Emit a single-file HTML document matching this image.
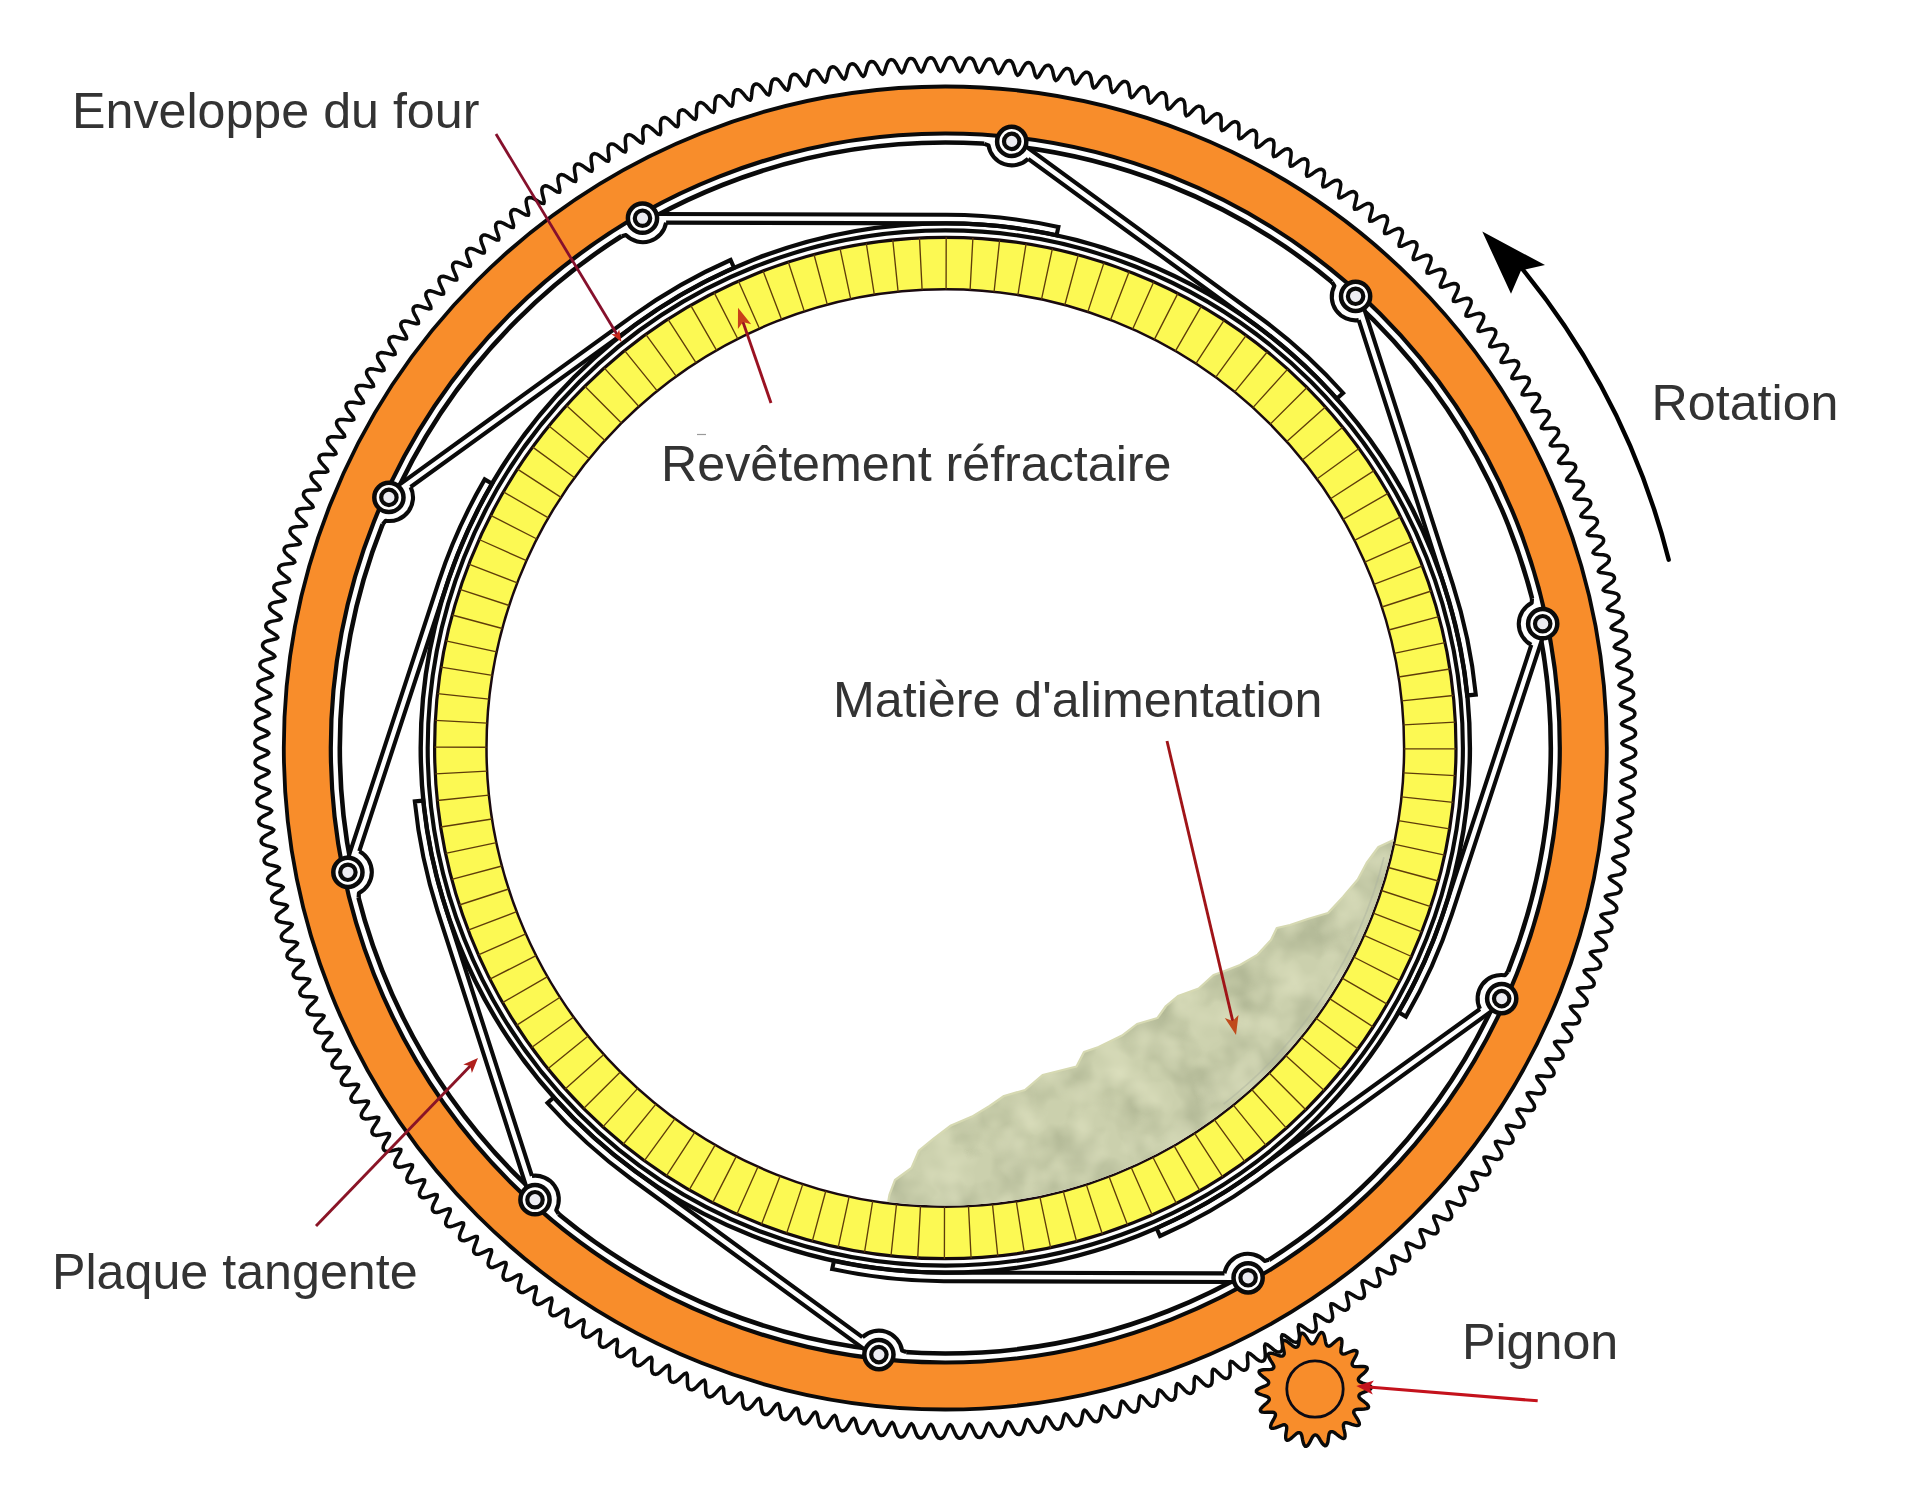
<!DOCTYPE html>
<html lang="fr"><head><meta charset="utf-8"><title>Four rotatif</title>
<style>
html,body{margin:0;padding:0;background:#fff;}
svg{display:block;}
text{font-family:"Liberation Sans",sans-serif;fill:#333;}
</style></head><body>
<svg width="1920" height="1494" viewBox="0 0 1920 1494">
<rect width="1920" height="1494" fill="#fff"/>
<path d="M1631.0,748.0 L1634.0,749.6 L1635.4,751.3 L1635.8,752.9 L1635.4,754.6 L1633.9,756.2 L1631.0,757.8 L1626.9,759.4 L1623.2,760.9 L1621.6,762.5 L1623.1,764.1 L1626.7,765.8 L1630.8,767.6 L1633.7,769.3 L1635.0,771.0 L1635.4,772.6 L1634.9,774.3 L1633.4,775.9 L1630.4,777.4 L1626.3,778.8 L1622.5,780.3 L1621.0,781.8 L1622.4,783.5 L1626.0,785.3 L1629.9,787.1 L1632.8,789.0 L1634.1,790.7 L1634.4,792.3 L1633.9,794.0 L1632.3,795.5 L1629.3,796.9 L1625.1,798.2 L1621.3,799.6 L1619.7,801.1 L1621.1,802.8 L1624.6,804.7 L1628.5,806.7 L1631.3,808.6 L1632.6,810.3 L1632.8,812.0 L1632.3,813.6 L1630.7,815.1 L1627.6,816.4 L1623.4,817.6 L1619.6,818.9 L1617.9,820.3 L1619.2,822.1 L1622.7,824.1 L1626.6,826.2 L1629.3,828.1 L1630.5,829.9 L1630.7,831.6 L1630.1,833.2 L1628.5,834.6 L1625.4,835.9 L1621.1,837.0 L1617.3,838.1 L1615.6,839.5 L1616.8,841.3 L1620.3,843.4 L1624.1,845.6 L1626.7,847.6 L1627.9,849.5 L1628.1,851.1 L1627.4,852.7 L1625.8,854.1 L1622.6,855.3 L1618.3,856.2 L1614.4,857.2 L1612.7,858.6 L1613.9,860.4 L1617.3,862.6 L1621.0,864.9 L1623.6,867.0 L1624.7,868.9 L1624.8,870.6 L1624.2,872.1 L1622.4,873.5 L1619.3,874.6 L1615.0,875.4 L1611.0,876.3 L1609.3,877.6 L1610.4,879.5 L1613.7,881.8 L1617.4,884.2 L1619.9,886.4 L1621.0,888.3 L1621.1,890.0 L1620.3,891.5 L1618.6,892.8 L1615.4,893.8 L1611.1,894.5 L1607.1,895.3 L1605.3,896.5 L1606.4,898.4 L1609.6,900.8 L1613.2,903.3 L1615.7,905.6 L1616.7,907.5 L1616.7,909.2 L1616.0,910.7 L1614.2,912.0 L1610.9,912.8 L1606.6,913.4 L1602.6,914.1 L1600.8,915.3 L1601.8,917.2 L1605.0,919.7 L1608.5,922.3 L1610.9,924.7 L1611.9,926.6 L1611.8,928.3 L1611.0,929.8 L1609.2,931.0 L1606.0,931.8 L1601.6,932.3 L1597.6,932.8 L1595.7,934.0 L1596.7,935.9 L1599.8,938.5 L1603.3,941.2 L1605.6,943.6 L1606.5,945.6 L1606.4,947.3 L1605.6,948.7 L1603.7,949.9 L1600.4,950.6 L1596.1,950.9 L1592.1,951.4 L1590.2,952.5 L1591.1,954.4 L1594.1,957.1 L1597.5,959.9 L1599.8,962.4 L1600.6,964.4 L1600.5,966.1 L1599.6,967.5 L1597.7,968.6 L1594.4,969.2 L1590.0,969.4 L1586.0,969.8 L1584.1,970.8 L1584.9,972.8 L1587.9,975.5 L1591.2,978.4 L1593.4,981.0 L1594.2,983.0 L1594.0,984.7 L1593.1,986.1 L1591.1,987.1 L1587.8,987.6 L1583.4,987.7 L1579.4,988.0 L1577.4,988.9 L1578.3,991.0 L1581.1,993.8 L1584.3,996.8 L1586.5,999.4 L1587.2,1001.4 L1586.9,1003.1 L1586.0,1004.5 L1584.0,1005.5 L1580.7,1005.9 L1576.3,1005.9 L1572.3,1006.0 L1570.3,1006.9 L1571.1,1008.9 L1573.8,1011.9 L1577.0,1014.9 L1579.0,1017.6 L1579.7,1019.7 L1579.4,1021.3 L1578.4,1022.7 L1576.4,1023.6 L1573.1,1023.9 L1568.7,1023.8 L1564.7,1023.8 L1562.7,1024.6 L1563.4,1026.7 L1566.1,1029.7 L1569.1,1032.9 L1571.1,1035.6 L1571.7,1037.7 L1571.3,1039.3 L1570.3,1040.7 L1568.3,1041.5 L1564.9,1041.7 L1560.6,1041.5 L1556.6,1041.3 L1554.5,1042.1 L1555.2,1044.2 L1557.8,1047.3 L1560.7,1050.6 L1562.6,1053.3 L1563.2,1055.4 L1562.8,1057.1 L1561.7,1058.4 L1559.7,1059.2 L1556.3,1059.3 L1551.9,1058.9 L1547.9,1058.7 L1545.9,1059.4 L1546.4,1061.5 L1549.0,1064.7 L1551.8,1068.0 L1553.6,1070.8 L1554.1,1073.0 L1553.7,1074.6 L1552.6,1075.9 L1550.5,1076.6 L1547.2,1076.6 L1542.8,1076.1 L1538.8,1075.8 L1536.7,1076.4 L1537.2,1078.6 L1539.7,1081.8 L1542.4,1085.2 L1544.2,1088.1 L1544.6,1090.2 L1544.1,1091.8 L1543.0,1093.1 L1540.9,1093.8 L1537.5,1093.7 L1533.2,1093.0 L1529.2,1092.6 L1527.1,1093.2 L1527.6,1095.3 L1529.9,1098.6 L1532.5,1102.1 L1534.2,1105.0 L1534.6,1107.2 L1534.0,1108.8 L1532.9,1110.0 L1530.8,1110.6 L1527.4,1110.5 L1523.1,1109.7 L1519.1,1109.1 L1517.0,1109.7 L1517.4,1111.8 L1519.6,1115.2 L1522.2,1118.7 L1523.8,1121.7 L1524.1,1123.9 L1523.5,1125.5 L1522.3,1126.6 L1520.2,1127.2 L1516.8,1126.9 L1512.5,1126.0 L1508.6,1125.3 L1506.4,1125.8 L1506.8,1128.0 L1508.9,1131.4 L1511.4,1135.1 L1512.9,1138.1 L1513.1,1140.2 L1512.5,1141.8 L1511.2,1142.9 L1509.1,1143.5 L1505.8,1143.1 L1501.5,1142.1 L1497.6,1141.3 L1495.4,1141.7 L1495.7,1143.9 L1497.7,1147.4 L1500.1,1151.1 L1501.5,1154.1 L1501.7,1156.3 L1501.0,1157.8 L1499.7,1158.9 L1497.6,1159.4 L1494.3,1158.9 L1490.0,1157.8 L1486.1,1156.9 L1484.0,1157.3 L1484.2,1159.5 L1486.1,1163.0 L1488.3,1166.7 L1489.7,1169.8 L1489.8,1172.0 L1489.1,1173.5 L1487.8,1174.6 L1485.6,1175.0 L1482.3,1174.5 L1478.1,1173.2 L1474.2,1172.2 L1472.1,1172.5 L1472.2,1174.7 L1474.0,1178.3 L1476.2,1182.1 L1477.4,1185.2 L1477.5,1187.4 L1476.7,1188.9 L1475.4,1189.9 L1473.2,1190.3 L1469.9,1189.6 L1465.8,1188.2 L1461.9,1187.1 L1459.7,1187.4 L1459.8,1189.6 L1461.5,1193.2 L1463.5,1197.1 L1464.7,1200.2 L1464.7,1202.4 L1463.9,1203.9 L1462.5,1204.9 L1460.4,1205.2 L1457.1,1204.4 L1453.0,1202.9 L1449.2,1201.7 L1447.0,1201.9 L1447.0,1204.1 L1448.6,1207.7 L1450.5,1211.7 L1451.6,1214.9 L1451.5,1217.1 L1450.7,1218.5 L1449.3,1219.5 L1447.1,1219.7 L1443.8,1218.8 L1439.8,1217.2 L1436.0,1215.9 L1433.8,1216.0 L1433.8,1218.2 L1435.3,1221.9 L1437.1,1225.9 L1438.0,1229.1 L1437.9,1231.3 L1437.0,1232.8 L1435.6,1233.7 L1433.4,1233.8 L1430.2,1232.9 L1426.2,1231.2 L1422.4,1229.7 L1420.2,1229.8 L1420.1,1232.0 L1421.6,1235.7 L1423.2,1239.8 L1424.1,1243.0 L1423.9,1245.2 L1423.0,1246.6 L1421.5,1247.5 L1419.4,1247.6 L1416.1,1246.5 L1412.2,1244.7 L1408.5,1243.1 L1406.3,1243.1 L1406.1,1245.3 L1407.4,1249.1 L1409.0,1253.2 L1409.8,1256.5 L1409.5,1258.7 L1408.6,1260.0 L1407.1,1260.9 L1404.9,1260.9 L1401.7,1259.8 L1397.8,1257.8 L1394.2,1256.1 L1392.0,1256.1 L1391.7,1258.3 L1392.9,1262.1 L1394.4,1266.2 L1395.0,1269.5 L1394.7,1271.7 L1393.7,1273.1 L1392.2,1273.8 L1390.1,1273.8 L1386.9,1272.6 L1383.1,1270.5 L1379.5,1268.8 L1377.3,1268.6 L1377.0,1270.8 L1378.1,1274.7 L1379.4,1278.9 L1380.0,1282.2 L1379.6,1284.3 L1378.6,1285.7 L1377.1,1286.4 L1374.9,1286.3 L1371.8,1285.0 L1368.0,1282.8 L1364.4,1280.9 L1362.2,1280.8 L1361.9,1282.9 L1362.9,1286.8 L1364.0,1291.0 L1364.5,1294.4 L1364.1,1296.5 L1363.0,1297.8 L1361.5,1298.5 L1359.3,1298.3 L1356.2,1297.0 L1352.5,1294.7 L1349.0,1292.7 L1346.8,1292.4 L1346.4,1294.6 L1347.3,1298.5 L1348.4,1302.8 L1348.8,1306.1 L1348.3,1308.2 L1347.2,1309.5 L1345.6,1310.2 L1343.4,1309.9 L1340.4,1308.5 L1336.7,1306.1 L1333.3,1304.0 L1331.1,1303.7 L1330.7,1305.8 L1331.4,1309.8 L1332.4,1314.1 L1332.7,1317.4 L1332.1,1319.5 L1331.0,1320.8 L1329.4,1321.4 L1327.2,1321.1 L1324.2,1319.5 L1320.6,1317.0 L1317.3,1314.9 L1315.1,1314.5 L1314.6,1316.6 L1315.2,1320.6 L1316.0,1324.9 L1316.2,1328.2 L1315.6,1330.3 L1314.5,1331.5 L1312.9,1332.1 L1310.7,1331.7 L1307.8,1330.1 L1304.2,1327.5 L1300.9,1325.2 L1298.8,1324.8 L1298.2,1326.9 L1298.7,1330.9 L1299.4,1335.2 L1299.5,1338.6 L1298.9,1340.7 L1297.6,1341.8 L1296.0,1342.4 L1293.9,1341.9 L1291.0,1340.2 L1287.5,1337.5 L1284.3,1335.2 L1282.2,1334.7 L1281.5,1336.8 L1281.9,1340.8 L1282.5,1345.1 L1282.5,1348.5 L1281.8,1350.5 L1280.5,1351.7 L1278.9,1352.1 L1276.8,1351.7 L1273.9,1349.9 L1270.6,1347.1 L1267.4,1344.6 L1265.3,1344.0 L1264.6,1346.1 L1264.9,1350.1 L1265.3,1354.5 L1265.2,1357.9 L1264.4,1359.9 L1263.2,1361.0 L1261.5,1361.4 L1259.4,1360.9 L1256.6,1359.0 L1253.3,1356.1 L1250.2,1353.6 L1248.1,1352.9 L1247.3,1355.0 L1247.5,1359.0 L1247.9,1363.4 L1247.7,1366.7 L1246.8,1368.8 L1245.5,1369.8 L1243.9,1370.2 L1241.8,1369.6 L1239.0,1367.6 L1235.8,1364.7 L1232.8,1362.0 L1230.7,1361.3 L1229.9,1363.4 L1230.0,1367.4 L1230.2,1371.8 L1229.9,1375.1 L1229.0,1377.1 L1227.7,1378.1 L1226.0,1378.5 L1223.9,1377.8 L1221.2,1375.8 L1218.1,1372.7 L1215.2,1370.0 L1213.1,1369.2 L1212.2,1371.3 L1212.2,1375.3 L1212.2,1379.7 L1211.9,1383.0 L1210.9,1385.0 L1209.5,1385.9 L1207.9,1386.2 L1205.8,1385.5 L1203.2,1383.4 L1200.2,1380.2 L1197.3,1377.4 L1195.2,1376.6 L1194.3,1378.6 L1194.1,1382.6 L1194.1,1387.0 L1193.6,1390.3 L1192.6,1392.3 L1191.2,1393.2 L1189.5,1393.5 L1187.5,1392.7 L1184.9,1390.5 L1182.0,1387.3 L1179.2,1384.4 L1177.2,1383.5 L1176.2,1385.5 L1175.9,1389.5 L1175.7,1393.9 L1175.2,1397.2 L1174.1,1399.1 L1172.7,1400.0 L1171.0,1400.2 L1169.0,1399.3 L1166.5,1397.1 L1163.7,1393.8 L1160.9,1390.8 L1158.9,1389.9 L1157.9,1391.8 L1157.5,1395.8 L1157.2,1400.2 L1156.6,1403.5 L1155.4,1405.4 L1154.0,1406.2 L1152.3,1406.3 L1150.3,1405.5 L1147.9,1403.1 L1145.1,1399.7 L1142.5,1396.7 L1140.5,1395.7 L1139.4,1397.6 L1138.9,1401.6 L1138.5,1406.0 L1137.8,1409.2 L1136.6,1411.1 L1135.1,1411.9 L1133.4,1412.0 L1131.4,1411.0 L1129.1,1408.7 L1126.4,1405.2 L1123.9,1402.1 L1121.9,1401.0 L1120.8,1402.9 L1120.2,1406.9 L1119.6,1411.2 L1118.8,1414.5 L1117.6,1416.3 L1116.1,1417.1 L1114.4,1417.1 L1112.4,1416.1 L1110.1,1413.6 L1107.6,1410.1 L1105.1,1406.9 L1103.2,1405.8 L1102.0,1407.6 L1101.3,1411.6 L1100.6,1415.9 L1099.7,1419.2 L1098.4,1420.9 L1096.9,1421.7 L1095.2,1421.6 L1093.3,1420.6 L1091.1,1418.1 L1088.6,1414.4 L1086.3,1411.2 L1084.4,1410.0 L1083.1,1411.8 L1082.3,1415.8 L1081.5,1420.1 L1080.5,1423.3 L1079.1,1425.0 L1077.6,1425.7 L1075.9,1425.7 L1074.0,1424.5 L1071.9,1422.0 L1069.5,1418.3 L1067.3,1414.9 L1065.4,1413.8 L1064.1,1415.5 L1063.1,1419.4 L1062.2,1423.7 L1061.1,1426.9 L1059.7,1428.6 L1058.2,1429.2 L1056.5,1429.1 L1054.7,1427.9 L1052.6,1425.3 L1050.3,1421.5 L1048.2,1418.1 L1046.4,1416.9 L1045.0,1418.6 L1043.9,1422.5 L1042.9,1426.8 L1041.7,1429.9 L1040.3,1431.6 L1038.7,1432.2 L1037.0,1432.0 L1035.2,1430.8 L1033.2,1428.1 L1031.1,1424.3 L1029.0,1420.8 L1027.2,1419.5 L1025.8,1421.2 L1024.6,1425.0 L1023.5,1429.3 L1022.2,1432.4 L1020.7,1434.0 L1019.1,1434.5 L1017.4,1434.3 L1015.7,1433.1 L1013.7,1430.3 L1011.7,1426.4 L1009.7,1422.9 L1008.0,1421.6 L1006.5,1423.2 L1005.3,1427.0 L1004.0,1431.2 L1002.6,1434.3 L1001.1,1435.9 L999.5,1436.4 L997.8,1436.1 L996.1,1434.8 L994.2,1432.0 L992.3,1428.1 L990.4,1424.5 L988.7,1423.1 L987.2,1424.7 L985.8,1428.5 L984.4,1432.6 L983.0,1435.6 L981.4,1437.2 L979.8,1437.6 L978.1,1437.3 L976.4,1436.0 L974.7,1433.1 L972.9,1429.1 L971.1,1425.5 L969.4,1424.1 L967.9,1425.6 L966.4,1429.4 L964.9,1433.5 L963.3,1436.4 L961.7,1437.9 L960.1,1438.3 L958.4,1438.0 L956.8,1436.6 L955.1,1433.7 L953.4,1429.6 L951.8,1426.0 L950.1,1424.5 L948.5,1426.0 L946.9,1429.7 L945.3,1433.7 L943.7,1436.7 L942.0,1438.1 L940.4,1438.5 L938.7,1438.1 L937.1,1436.6 L935.5,1433.7 L933.9,1429.6 L932.4,1425.9 L930.8,1424.3 L929.2,1425.8 L927.5,1429.4 L925.7,1433.5 L924.0,1436.4 L922.3,1437.7 L920.7,1438.1 L919.0,1437.6 L917.4,1436.1 L915.9,1433.1 L914.5,1429.0 L913.0,1425.2 L911.5,1423.7 L909.8,1425.1 L908.0,1428.7 L906.2,1432.6 L904.3,1435.5 L902.6,1436.8 L901.0,1437.1 L899.3,1436.6 L897.8,1435.0 L896.4,1432.0 L895.1,1427.8 L893.7,1424.0 L892.2,1422.4 L890.5,1423.8 L888.6,1427.3 L886.6,1431.2 L884.7,1434.0 L883.0,1435.3 L881.3,1435.5 L879.7,1435.0 L878.2,1433.4 L876.9,1430.3 L875.7,1426.1 L874.4,1422.3 L873.0,1420.6 L871.2,1421.9 L869.2,1425.4 L867.1,1429.3 L865.2,1432.0 L863.4,1433.2 L861.7,1433.4 L860.1,1432.8 L858.7,1431.2 L857.4,1428.1 L856.3,1423.8 L855.2,1420.0 L853.8,1418.3 L852.0,1419.5 L849.9,1423.0 L847.7,1426.8 L845.7,1429.4 L843.8,1430.6 L842.2,1430.8 L840.6,1430.1 L839.2,1428.5 L838.0,1425.3 L837.1,1421.0 L836.1,1417.1 L834.7,1415.4 L832.9,1416.6 L830.7,1420.0 L828.4,1423.7 L826.3,1426.3 L824.4,1427.4 L822.7,1427.5 L821.2,1426.9 L819.8,1425.1 L818.7,1422.0 L817.9,1417.7 L817.0,1413.7 L815.7,1412.0 L813.8,1413.1 L811.5,1416.4 L809.1,1420.1 L806.9,1422.6 L805.0,1423.7 L803.3,1423.8 L801.8,1423.0 L800.5,1421.3 L799.5,1418.1 L798.8,1413.8 L798.0,1409.8 L796.8,1408.0 L794.9,1409.1 L792.5,1412.3 L790.0,1415.9 L787.7,1418.4 L785.8,1419.4 L784.1,1419.4 L782.6,1418.7 L781.3,1416.9 L780.5,1413.6 L779.9,1409.3 L779.2,1405.3 L778.0,1403.5 L776.1,1404.5 L773.6,1407.7 L771.0,1411.2 L768.6,1413.6 L766.7,1414.6 L765.0,1414.5 L763.5,1413.7 L762.3,1411.9 L761.5,1408.7 L761.0,1404.3 L760.5,1400.3 L759.3,1398.4 L757.4,1399.4 L754.8,1402.5 L752.1,1406.0 L749.7,1408.3 L747.7,1409.2 L746.0,1409.1 L744.6,1408.3 L743.4,1406.4 L742.7,1403.1 L742.4,1398.8 L741.9,1394.8 L740.8,1392.9 L738.9,1393.8 L736.2,1396.8 L733.4,1400.2 L730.9,1402.5 L728.9,1403.3 L727.2,1403.2 L725.8,1402.3 L724.7,1400.4 L724.1,1397.1 L723.9,1392.7 L723.5,1388.7 L722.5,1386.8 L720.5,1387.6 L717.8,1390.6 L714.9,1393.9 L712.3,1396.1 L710.3,1396.9 L708.6,1396.7 L707.2,1395.8 L706.2,1393.8 L705.7,1390.5 L705.6,1386.1 L705.3,1382.1 L704.4,1380.1 L702.3,1381.0 L699.5,1383.8 L696.5,1387.0 L693.9,1389.2 L691.9,1389.9 L690.2,1389.6 L688.8,1388.7 L687.8,1386.7 L687.4,1383.4 L687.4,1379.0 L687.3,1375.0 L686.4,1373.0 L684.4,1373.8 L681.4,1376.5 L678.4,1379.7 L675.7,1381.7 L673.6,1382.4 L672.0,1382.1 L670.6,1381.1 L669.7,1379.1 L669.4,1375.8 L669.5,1371.4 L669.5,1367.4 L668.7,1365.4 L666.6,1366.1 L663.6,1368.8 L660.4,1371.8 L657.7,1373.8 L655.6,1374.4 L654.0,1374.0 L652.6,1373.0 L651.8,1371.0 L651.6,1367.6 L651.8,1363.3 L652.0,1359.3 L651.2,1357.2 L649.1,1357.9 L646.0,1360.5 L642.7,1363.4 L640.0,1365.3 L637.9,1365.9 L636.2,1365.5 L634.9,1364.4 L634.1,1362.4 L634.0,1359.0 L634.4,1354.6 L634.6,1350.6 L633.9,1348.6 L631.8,1349.1 L628.6,1351.7 L625.3,1354.5 L622.5,1356.3 L620.3,1356.8 L618.7,1356.4 L617.4,1355.3 L616.7,1353.2 L616.7,1349.9 L617.2,1345.5 L617.5,1341.5 L616.9,1339.4 L614.7,1339.9 L611.5,1342.4 L608.1,1345.1 L605.2,1346.9 L603.1,1347.3 L601.5,1346.8 L600.2,1345.7 L599.5,1343.6 L599.6,1340.2 L600.3,1335.9 L600.7,1331.9 L600.1,1329.8 L598.0,1330.3 L594.7,1332.6 L591.2,1335.2 L588.3,1336.9 L586.1,1337.3 L584.5,1336.7 L583.3,1335.6 L582.7,1333.5 L582.8,1330.1 L583.6,1325.8 L584.2,1321.8 L583.6,1319.7 L581.5,1320.1 L578.1,1322.3 L574.6,1324.9 L571.6,1326.5 L569.4,1326.8 L567.8,1326.2 L566.7,1325.0 L566.1,1322.9 L566.4,1319.5 L567.3,1315.2 L568.0,1311.3 L567.5,1309.1 L565.3,1309.5 L561.9,1311.6 L558.2,1314.1 L555.2,1315.6 L553.1,1315.8 L551.5,1315.2 L550.4,1313.9 L549.8,1311.8 L550.2,1308.5 L551.2,1304.2 L552.0,1300.3 L551.6,1298.1 L549.4,1298.4 L545.9,1300.4 L542.2,1302.8 L539.2,1304.2 L537.0,1304.4 L535.5,1303.7 L534.4,1302.4 L533.9,1300.3 L534.4,1297.0 L535.5,1292.7 L536.4,1288.8 L536.0,1286.7 L533.8,1286.9 L530.3,1288.8 L526.6,1291.0 L523.5,1292.4 L521.3,1292.5 L519.8,1291.8 L518.7,1290.5 L518.3,1288.3 L518.8,1285.0 L520.1,1280.8 L521.1,1276.9 L520.8,1274.8 L518.6,1274.9 L515.0,1276.7 L511.2,1278.9 L508.1,1280.1 L505.9,1280.2 L504.4,1279.4 L503.4,1278.1 L503.0,1275.9 L503.7,1272.6 L505.1,1268.5 L506.2,1264.6 L505.9,1262.4 L503.7,1262.5 L500.1,1264.2 L496.2,1266.2 L493.1,1267.4 L490.9,1267.4 L489.4,1266.6 L488.4,1265.2 L488.1,1263.1 L488.9,1259.8 L490.4,1255.7 L491.6,1251.9 L491.4,1249.7 L489.2,1249.7 L485.6,1251.3 L481.6,1253.2 L478.4,1254.3 L476.2,1254.2 L474.8,1253.4 L473.8,1252.0 L473.6,1249.8 L474.5,1246.5 L476.1,1242.5 L477.4,1238.7 L477.3,1236.5 L475.1,1236.5 L471.4,1238.0 L467.4,1239.8 L464.2,1240.7 L462.0,1240.6 L460.5,1239.7 L459.6,1238.3 L459.5,1236.1 L460.4,1232.9 L462.1,1228.9 L463.6,1225.1 L463.5,1222.9 L461.3,1222.8 L457.6,1224.3 L453.5,1225.9 L450.3,1226.8 L448.1,1226.6 L446.7,1225.7 L445.8,1224.2 L445.7,1222.1 L446.8,1218.8 L448.6,1214.9 L450.2,1211.2 L450.2,1209.0 L448.0,1208.8 L444.2,1210.1 L440.1,1211.7 L436.8,1212.5 L434.6,1212.2 L433.3,1211.3 L432.4,1209.8 L432.4,1207.6 L433.5,1204.4 L435.5,1200.5 L437.2,1196.9 L437.2,1194.7 L435.0,1194.4 L431.2,1195.6 L427.1,1197.1 L423.8,1197.7 L421.6,1197.4 L420.2,1196.4 L419.5,1194.9 L419.5,1192.8 L420.7,1189.6 L422.8,1185.8 L424.5,1182.2 L424.7,1180.0 L422.5,1179.7 L418.6,1180.8 L414.4,1182.1 L411.1,1182.7 L409.0,1182.3 L407.6,1181.3 L406.9,1179.8 L407.0,1177.6 L408.3,1174.5 L410.5,1170.7 L412.4,1167.1 L412.5,1164.9 L410.4,1164.6 L406.5,1165.6 L402.3,1166.7 L398.9,1167.2 L396.8,1166.8 L395.5,1165.7 L394.8,1164.2 L395.0,1162.0 L396.3,1158.9 L398.6,1155.2 L400.6,1151.7 L400.9,1149.5 L398.7,1149.1 L394.8,1150.0 L390.5,1151.1 L387.2,1151.5 L385.1,1151.0 L383.8,1149.9 L383.1,1148.3 L383.4,1146.1 L384.8,1143.1 L387.2,1139.4 L389.3,1136.0 L389.6,1133.8 L387.5,1133.4 L383.5,1134.1 L379.2,1135.1 L375.9,1135.4 L373.8,1134.8 L372.5,1133.7 L371.9,1132.1 L372.2,1129.9 L373.8,1126.9 L376.3,1123.3 L378.4,1120.0 L378.8,1117.8 L376.7,1117.3 L372.7,1117.9 L368.4,1118.7 L365.1,1118.9 L363.0,1118.3 L361.8,1117.2 L361.2,1115.6 L361.6,1113.4 L363.2,1110.5 L365.8,1106.9 L368.1,1103.6 L368.5,1101.5 L366.4,1100.9 L362.4,1101.4 L358.1,1102.1 L354.7,1102.2 L352.6,1101.6 L351.5,1100.3 L350.9,1098.7 L351.4,1096.6 L353.1,1093.7 L355.8,1090.2 L358.1,1087.0 L358.6,1084.9 L356.5,1084.2 L352.5,1084.6 L348.2,1085.2 L344.8,1085.2 L342.8,1084.5 L341.6,1083.2 L341.2,1081.6 L341.6,1079.5 L343.4,1076.6 L346.2,1073.3 L348.7,1070.1 L349.3,1068.0 L347.2,1067.3 L343.2,1067.6 L338.8,1068.0 L335.4,1067.9 L333.4,1067.1 L332.3,1065.9 L331.9,1064.2 L332.4,1062.1 L334.3,1059.3 L337.2,1056.0 L339.7,1052.9 L340.4,1050.8 L338.3,1050.0 L334.3,1050.2 L329.9,1050.6 L326.6,1050.4 L324.5,1049.5 L323.5,1048.2 L323.1,1046.6 L323.7,1044.5 L325.7,1041.7 L328.6,1038.5 L331.3,1035.5 L332.0,1033.4 L329.9,1032.6 L325.9,1032.7 L321.5,1032.9 L318.2,1032.6 L316.2,1031.7 L315.2,1030.4 L314.8,1028.7 L315.5,1026.6 L317.5,1023.9 L320.6,1020.8 L323.3,1017.9 L324.1,1015.8 L322.0,1014.9 L318.0,1014.9 L313.6,1014.9 L310.3,1014.6 L308.3,1013.6 L307.4,1012.2 L307.1,1010.6 L307.8,1008.5 L309.9,1005.9 L313.1,1002.9 L315.9,1000.0 L316.7,997.9 L314.7,997.0 L310.7,996.8 L306.3,996.8 L303.0,996.3 L301.0,995.3 L300.1,993.9 L299.8,992.2 L300.6,990.2 L302.8,987.6 L306.0,984.7 L308.9,981.9 L309.8,979.9 L307.8,978.9 L303.8,978.6 L299.4,978.4 L296.1,977.9 L294.2,976.8 L293.3,975.4 L293.1,973.7 L294.0,971.7 L296.2,969.2 L299.5,966.4 L302.5,963.6 L303.4,961.6 L301.5,960.6 L297.5,960.2 L293.1,959.9 L289.8,959.3 L287.9,958.1 L287.1,956.7 L287.0,955.0 L287.8,953.0 L290.2,950.6 L293.6,947.8 L296.6,945.2 L297.6,943.2 L295.7,942.1 L291.7,941.6 L287.3,941.2 L284.1,940.5 L282.2,939.3 L281.4,937.8 L281.3,936.1 L282.3,934.1 L284.6,931.8 L288.1,929.1 L291.2,926.6 L292.3,924.6 L290.4,923.5 L286.4,922.9 L282.1,922.3 L278.8,921.5 L277.0,920.3 L276.2,918.8 L276.2,917.1 L277.2,915.1 L279.7,912.8 L283.2,910.3 L286.4,907.8 L287.5,905.9 L285.7,904.7 L281.7,904.0 L277.4,903.3 L274.1,902.4 L272.4,901.1 L271.6,899.6 L271.7,897.9 L272.7,896.0 L275.2,893.8 L278.9,891.3 L282.1,889.0 L283.3,887.1 L281.5,885.8 L277.5,885.0 L273.2,884.2 L270.0,883.2 L268.3,881.8 L267.6,880.3 L267.6,878.6 L268.8,876.7 L271.3,874.6 L275.0,872.2 L278.4,870.0 L279.5,868.1 L277.8,866.8 L273.9,865.8 L269.6,864.9 L266.4,863.8 L264.7,862.4 L264.1,860.9 L264.2,859.2 L265.4,857.4 L268.0,855.3 L271.8,853.0 L275.2,850.9 L276.4,849.1 L274.7,847.7 L270.8,846.6 L266.5,845.6 L263.4,844.4 L261.7,843.0 L261.1,841.4 L261.3,839.7 L262.5,837.9 L265.2,835.9 L269.0,833.8 L272.5,831.7 L273.8,829.9 L272.1,828.5 L268.3,827.3 L264.0,826.2 L260.9,824.9 L259.3,823.4 L258.8,821.8 L259.0,820.1 L260.2,818.4 L263.0,816.4 L266.9,814.4 L270.4,812.4 L271.7,810.7 L270.1,809.2 L266.3,808.0 L262.1,806.7 L259.0,805.3 L257.4,803.8 L256.9,802.2 L257.2,800.5 L258.5,798.8 L261.3,796.9 L265.2,795.0 L268.8,793.1 L270.2,791.4 L268.6,789.9 L264.8,788.5 L260.7,787.1 L257.7,785.7 L256.1,784.1 L255.7,782.5 L256.0,780.8 L257.3,779.1 L260.2,777.4 L264.2,775.6 L267.8,773.8 L269.2,772.1 L267.7,770.6 L263.9,769.1 L259.8,767.6 L256.9,766.0 L255.4,764.4 L255.0,762.8 L255.3,761.1 L256.7,759.5 L259.6,757.8 L263.7,756.1 L267.3,754.5 L268.8,752.8 L267.3,751.2 L263.6,749.6 L259.6,748.0 L256.6,746.4 L255.2,744.7 L254.8,743.1 L255.2,741.4 L256.7,739.8 L259.6,738.2 L263.7,736.6 L267.4,735.1 L269.0,733.5 L267.5,731.9 L263.9,730.2 L259.8,728.4 L256.9,726.7 L255.6,725.0 L255.2,723.4 L255.7,721.7 L257.2,720.1 L260.2,718.6 L264.3,717.2 L268.1,715.7 L269.6,714.2 L268.2,712.5 L264.6,710.7 L260.7,708.9 L257.8,707.0 L256.5,705.3 L256.2,703.7 L256.7,702.0 L258.3,700.5 L261.3,699.1 L265.5,697.8 L269.3,696.4 L270.9,694.9 L269.5,693.2 L266.0,691.3 L262.1,689.3 L259.3,687.4 L258.0,685.7 L257.8,684.0 L258.3,682.4 L259.9,680.9 L263.0,679.6 L267.2,678.4 L271.0,677.1 L272.7,675.7 L271.4,673.9 L267.9,671.9 L264.0,669.8 L261.3,667.9 L260.1,666.1 L259.9,664.4 L260.5,662.8 L262.1,661.4 L265.2,660.1 L269.5,659.0 L273.3,657.9 L275.0,656.5 L273.8,654.7 L270.3,652.6 L266.5,650.4 L263.9,648.4 L262.7,646.5 L262.5,644.9 L263.2,643.3 L264.8,641.9 L268.0,640.7 L272.3,639.8 L276.2,638.8 L277.9,637.4 L276.7,635.6 L273.3,633.4 L269.6,631.1 L267.0,629.0 L265.9,627.1 L265.8,625.4 L266.4,623.9 L268.2,622.5 L271.3,621.4 L275.6,620.6 L279.6,619.7 L281.3,618.4 L280.2,616.5 L276.9,614.2 L273.2,611.8 L270.7,609.6 L269.6,607.7 L269.5,606.0 L270.3,604.5 L272.0,603.2 L275.2,602.2 L279.5,601.5 L283.5,600.7 L285.3,599.5 L284.2,597.6 L281.0,595.2 L277.4,592.7 L274.9,590.4 L273.9,588.5 L273.9,586.8 L274.6,585.3 L276.4,584.0 L279.7,583.2 L284.0,582.6 L288.0,581.9 L289.8,580.7 L288.8,578.8 L285.6,576.3 L282.1,573.7 L279.7,571.3 L278.7,569.4 L278.8,567.7 L279.6,566.2 L281.4,565.0 L284.6,564.2 L289.0,563.7 L293.0,563.2 L294.9,562.0 L293.9,560.1 L290.8,557.5 L287.3,554.8 L285.0,552.4 L284.1,550.4 L284.2,548.7 L285.0,547.3 L286.9,546.1 L290.2,545.4 L294.5,545.1 L298.5,544.6 L300.4,543.5 L299.5,541.6 L296.5,538.9 L293.1,536.1 L290.8,533.6 L290.0,531.6 L290.1,529.9 L291.0,528.5 L292.9,527.4 L296.2,526.8 L300.6,526.6 L304.6,526.2 L306.5,525.2 L305.7,523.2 L302.7,520.5 L299.4,517.6 L297.2,515.0 L296.4,513.0 L296.6,511.3 L297.5,509.9 L299.5,508.9 L302.8,508.4 L307.2,508.3 L311.2,508.0 L313.2,507.1 L312.3,505.0 L309.5,502.2 L306.3,499.2 L304.1,496.6 L303.4,494.6 L303.7,492.9 L304.6,491.5 L306.6,490.5 L309.9,490.1 L314.3,490.1 L318.3,490.0 L320.3,489.1 L319.5,487.1 L316.8,484.1 L313.6,481.1 L311.6,478.4 L310.9,476.3 L311.2,474.7 L312.2,473.3 L314.2,472.4 L317.5,472.1 L321.9,472.2 L325.9,472.2 L327.9,471.4 L327.2,469.3 L324.5,466.3 L321.5,463.1 L319.5,460.4 L318.9,458.3 L319.3,456.7 L320.3,455.3 L322.3,454.5 L325.7,454.3 L330.0,454.5 L334.0,454.7 L336.1,453.9 L335.4,451.8 L332.8,448.7 L329.9,445.4 L328.0,442.7 L327.4,440.6 L327.8,438.9 L328.9,437.6 L330.9,436.8 L334.3,436.7 L338.7,437.1 L342.7,437.3 L344.7,436.6 L344.2,434.5 L341.6,431.3 L338.8,428.0 L337.0,425.2 L336.5,423.0 L336.9,421.4 L338.0,420.1 L340.1,419.4 L343.4,419.4 L347.8,419.9 L351.8,420.2 L353.9,419.6 L353.4,417.4 L350.9,414.2 L348.2,410.8 L346.4,407.9 L346.0,405.8 L346.5,404.2 L347.6,402.9 L349.7,402.2 L353.1,402.3 L357.4,403.0 L361.4,403.4 L363.5,402.8 L363.0,400.7 L360.7,397.4 L358.1,393.9 L356.4,391.0 L356.0,388.8 L356.6,387.2 L357.7,386.0 L359.8,385.4 L363.2,385.5 L367.5,386.3 L371.5,386.9 L373.6,386.3 L373.2,384.2 L371.0,380.8 L368.4,377.3 L366.8,374.3 L366.5,372.1 L367.1,370.5 L368.3,369.4 L370.4,368.8 L373.8,369.1 L378.1,370.0 L382.0,370.7 L384.2,370.2 L383.8,368.0 L381.7,364.6 L379.2,360.9 L377.7,357.9 L377.5,355.8 L378.1,354.2 L379.4,353.1 L381.5,352.5 L384.8,352.9 L389.1,353.9 L393.0,354.7 L395.2,354.3 L394.9,352.1 L392.9,348.6 L390.5,344.9 L389.1,341.9 L388.9,339.7 L389.6,338.2 L390.9,337.1 L393.0,336.6 L396.3,337.1 L400.6,338.2 L404.5,339.1 L406.6,338.7 L406.4,336.5 L404.5,333.0 L402.3,329.3 L400.9,326.2 L400.8,324.0 L401.5,322.5 L402.8,321.4 L405.0,321.0 L408.3,321.5 L412.5,322.8 L416.4,323.8 L418.5,323.5 L418.4,321.3 L416.6,317.7 L414.4,313.9 L413.2,310.8 L413.1,308.6 L413.9,307.1 L415.2,306.1 L417.4,305.7 L420.7,306.4 L424.8,307.8 L428.7,308.9 L430.9,308.6 L430.8,306.4 L429.1,302.8 L427.1,298.9 L425.9,295.8 L425.9,293.6 L426.7,292.1 L428.1,291.1 L430.2,290.8 L433.5,291.6 L437.6,293.1 L441.4,294.3 L443.6,294.1 L443.6,291.9 L442.0,288.3 L440.1,284.3 L439.0,281.1 L439.1,278.9 L439.9,277.5 L441.3,276.5 L443.5,276.3 L446.8,277.2 L450.8,278.8 L454.6,280.1 L456.8,280.0 L456.8,277.8 L455.3,274.1 L453.5,270.1 L452.6,266.9 L452.7,264.7 L453.6,263.2 L455.0,262.3 L457.2,262.2 L460.4,263.1 L464.4,264.8 L468.2,266.3 L470.4,266.2 L470.5,264.0 L469.0,260.3 L467.4,256.2 L466.5,253.0 L466.7,250.8 L467.6,249.4 L469.1,248.5 L471.2,248.4 L474.5,249.5 L478.4,251.3 L482.1,252.9 L484.3,252.9 L484.5,250.7 L483.2,246.9 L481.6,242.8 L480.8,239.5 L481.1,237.3 L482.0,236.0 L483.5,235.1 L485.7,235.1 L488.9,236.2 L492.8,238.2 L496.4,239.9 L498.6,239.9 L498.9,237.7 L497.7,233.9 L496.2,229.8 L495.6,226.5 L495.9,224.3 L496.9,222.9 L498.4,222.2 L500.5,222.2 L503.7,223.4 L507.5,225.5 L511.1,227.2 L513.3,227.4 L513.6,225.2 L512.5,221.3 L511.2,217.1 L510.6,213.8 L511.0,211.7 L512.0,210.3 L513.5,209.6 L515.7,209.7 L518.8,211.0 L522.6,213.2 L526.2,215.1 L528.4,215.2 L528.7,213.1 L527.7,209.2 L526.6,205.0 L526.1,201.6 L526.5,199.5 L527.6,198.2 L529.1,197.5 L531.3,197.7 L534.4,199.0 L538.1,201.3 L541.6,203.3 L543.8,203.6 L544.2,201.4 L543.3,197.5 L542.2,193.2 L541.8,189.9 L542.3,187.8 L543.4,186.5 L545.0,185.8 L547.2,186.1 L550.2,187.5 L553.9,189.9 L557.3,192.0 L559.5,192.3 L559.9,190.2 L559.2,186.2 L558.2,181.9 L557.9,178.6 L558.5,176.5 L559.6,175.2 L561.2,174.6 L563.4,174.9 L566.4,176.5 L570.0,179.0 L573.3,181.1 L575.5,181.5 L576.0,179.4 L575.4,175.4 L574.6,171.1 L574.4,167.8 L575.0,165.7 L576.1,164.5 L577.7,163.9 L579.9,164.3 L582.8,165.9 L586.4,168.5 L589.7,170.8 L591.8,171.2 L592.4,169.1 L591.9,165.1 L591.2,160.8 L591.1,157.4 L591.7,155.3 L593.0,154.2 L594.6,153.6 L596.7,154.1 L599.6,155.8 L603.1,158.5 L606.3,160.8 L608.4,161.3 L609.1,159.2 L608.7,155.2 L608.1,150.9 L608.1,147.5 L608.8,145.5 L610.1,144.3 L611.7,143.9 L613.8,144.3 L616.7,146.1 L620.0,148.9 L623.2,151.4 L625.3,152.0 L626.0,149.9 L625.7,145.9 L625.3,141.5 L625.4,138.1 L626.2,136.1 L627.4,135.0 L629.1,134.6 L631.2,135.1 L634.0,137.0 L637.3,139.9 L640.4,142.4 L642.5,143.1 L643.3,141.0 L643.1,137.0 L642.7,132.6 L642.9,129.3 L643.8,127.2 L645.1,126.2 L646.7,125.8 L648.8,126.4 L651.6,128.4 L654.8,131.3 L657.8,134.0 L659.9,134.7 L660.7,132.6 L660.6,128.6 L660.4,124.2 L660.7,120.9 L661.6,118.9 L662.9,117.9 L664.6,117.5 L666.7,118.2 L669.4,120.2 L672.5,123.3 L675.4,126.0 L677.5,126.8 L678.4,124.7 L678.4,120.7 L678.4,116.3 L678.7,113.0 L679.7,111.0 L681.1,110.1 L682.7,109.8 L684.8,110.5 L687.4,112.6 L690.4,115.8 L693.3,118.6 L695.4,119.4 L696.3,117.4 L696.5,113.4 L696.5,109.0 L697.0,105.7 L698.0,103.7 L699.4,102.8 L701.1,102.5 L703.1,103.3 L705.7,105.5 L708.6,108.7 L711.4,111.6 L713.4,112.5 L714.4,110.5 L714.7,106.5 L714.9,102.1 L715.4,98.8 L716.5,96.9 L717.9,96.0 L719.6,95.8 L721.6,96.7 L724.1,98.9 L726.9,102.2 L729.7,105.2 L731.7,106.1 L732.7,104.2 L733.1,100.2 L733.4,95.8 L734.0,92.5 L735.2,90.6 L736.6,89.8 L738.3,89.7 L740.3,90.5 L742.7,92.9 L745.5,96.3 L748.1,99.3 L750.1,100.3 L751.2,98.4 L751.7,94.4 L752.1,90.0 L752.8,86.8 L754.0,84.9 L755.5,84.1 L757.2,84.0 L759.2,85.0 L761.5,87.3 L764.2,90.8 L766.7,93.9 L768.7,95.0 L769.8,93.1 L770.4,89.1 L771.0,84.8 L771.8,81.5 L773.0,79.7 L774.5,78.9 L776.2,78.9 L778.2,79.9 L780.5,82.4 L783.0,85.9 L785.5,89.1 L787.4,90.2 L788.6,88.4 L789.3,84.4 L790.0,80.1 L790.9,76.8 L792.2,75.1 L793.7,74.3 L795.4,74.4 L797.3,75.4 L799.5,77.9 L802.0,81.6 L804.3,84.8 L806.2,86.0 L807.5,84.2 L808.3,80.2 L809.1,75.9 L810.1,72.7 L811.5,71.0 L813.0,70.3 L814.7,70.3 L816.6,71.5 L818.7,74.0 L821.1,77.7 L823.3,81.1 L825.2,82.2 L826.5,80.5 L827.5,76.6 L828.4,72.3 L829.5,69.1 L830.9,67.4 L832.4,66.8 L834.1,66.9 L835.9,68.1 L838.0,70.7 L840.3,74.5 L842.4,77.9 L844.2,79.1 L845.6,77.4 L846.7,73.5 L847.7,69.2 L848.9,66.1 L850.3,64.4 L851.9,63.8 L853.6,64.0 L855.4,65.2 L857.4,67.9 L859.5,71.7 L861.6,75.2 L863.4,76.5 L864.8,74.8 L866.0,71.0 L867.1,66.7 L868.4,63.6 L869.9,62.0 L871.5,61.5 L873.2,61.7 L874.9,62.9 L876.9,65.7 L878.9,69.6 L880.9,73.1 L882.6,74.4 L884.1,72.8 L885.3,69.0 L886.6,64.8 L888.0,61.7 L889.5,60.1 L891.1,59.6 L892.8,59.9 L894.5,61.2 L896.4,64.0 L898.3,67.9 L900.2,71.5 L901.9,72.9 L903.4,71.3 L904.8,67.5 L906.2,63.4 L907.6,60.4 L909.2,58.8 L910.8,58.4 L912.5,58.7 L914.2,60.0 L915.9,62.9 L917.7,66.9 L919.5,70.5 L921.2,71.9 L922.7,70.4 L924.2,66.6 L925.7,62.5 L927.3,59.6 L928.9,58.1 L930.5,57.7 L932.2,58.0 L933.8,59.4 L935.5,62.3 L937.2,66.4 L938.8,70.0 L940.5,71.5 L942.1,70.0 L943.7,66.3 L945.3,62.3 L946.9,59.3 L948.6,57.9 L950.2,57.5 L951.9,57.9 L953.5,59.4 L955.1,62.3 L956.7,66.4 L958.2,70.1 L959.8,71.7 L961.4,70.2 L963.1,66.6 L964.9,62.5 L966.6,59.6 L968.3,58.3 L969.9,57.9 L971.6,58.4 L973.2,59.9 L974.7,62.9 L976.1,67.0 L977.6,70.8 L979.1,72.3 L980.8,70.9 L982.6,67.3 L984.4,63.4 L986.3,60.5 L988.0,59.2 L989.6,58.9 L991.3,59.4 L992.8,61.0 L994.2,64.0 L995.5,68.2 L996.9,72.0 L998.4,73.6 L1000.1,72.2 L1002.0,68.7 L1004.0,64.8 L1005.9,62.0 L1007.6,60.7 L1009.3,60.5 L1010.9,61.0 L1012.4,62.6 L1013.7,65.7 L1014.9,69.9 L1016.2,73.7 L1017.6,75.4 L1019.4,74.1 L1021.4,70.6 L1023.5,66.7 L1025.4,64.0 L1027.2,62.8 L1028.9,62.6 L1030.5,63.2 L1031.9,64.8 L1033.2,67.9 L1034.3,72.2 L1035.4,76.0 L1036.8,77.7 L1038.6,76.5 L1040.7,73.0 L1042.9,69.2 L1044.9,66.6 L1046.8,65.4 L1048.4,65.2 L1050.0,65.9 L1051.4,67.5 L1052.6,70.7 L1053.5,75.0 L1054.5,78.9 L1055.9,80.6 L1057.7,79.4 L1059.9,76.0 L1062.2,72.3 L1064.3,69.7 L1066.2,68.6 L1067.9,68.5 L1069.4,69.1 L1070.8,70.9 L1071.9,74.0 L1072.7,78.3 L1073.6,82.3 L1074.9,84.0 L1076.8,82.9 L1079.1,79.6 L1081.5,75.9 L1083.7,73.4 L1085.6,72.3 L1087.3,72.2 L1088.8,73.0 L1090.1,74.7 L1091.1,77.9 L1091.8,82.2 L1092.6,86.2 L1093.8,88.0 L1095.7,86.9 L1098.1,83.7 L1100.6,80.1 L1102.9,77.6 L1104.8,76.6 L1106.5,76.6 L1108.0,77.3 L1109.3,79.1 L1110.1,82.4 L1110.7,86.7 L1111.4,90.7 L1112.6,92.5 L1114.5,91.5 L1117.0,88.3 L1119.6,84.8 L1122.0,82.4 L1123.9,81.4 L1125.6,81.5 L1127.1,82.3 L1128.3,84.1 L1129.1,87.3 L1129.6,91.7 L1130.1,95.7 L1131.3,97.6 L1133.2,96.6 L1135.8,93.5 L1138.5,90.0 L1140.9,87.7 L1142.9,86.8 L1144.6,86.9 L1146.0,87.7 L1147.2,89.6 L1147.9,92.9 L1148.2,97.2 L1148.7,101.2 L1149.8,103.1 L1151.7,102.2 L1154.4,99.2 L1157.2,95.8 L1159.7,93.5 L1161.7,92.7 L1163.4,92.8 L1164.8,93.7 L1165.9,95.6 L1166.5,98.9 L1166.7,103.3 L1167.1,107.3 L1168.1,109.2 L1170.1,108.4 L1172.8,105.4 L1175.7,102.1 L1178.3,99.9 L1180.3,99.1 L1182.0,99.3 L1183.4,100.2 L1184.4,102.2 L1184.9,105.5 L1185.0,109.9 L1185.3,113.9 L1186.2,115.9 L1188.3,115.0 L1191.1,112.2 L1194.1,109.0 L1196.7,106.8 L1198.7,106.1 L1200.4,106.4 L1201.8,107.3 L1202.8,109.3 L1203.2,112.6 L1203.2,117.0 L1203.3,121.0 L1204.2,123.0 L1206.2,122.2 L1209.2,119.5 L1212.2,116.3 L1214.9,114.3 L1217.0,113.6 L1218.6,113.9 L1220.0,114.9 L1220.9,116.9 L1221.2,120.2 L1221.1,124.6 L1221.1,128.6 L1221.9,130.6 L1224.0,129.9 L1227.0,127.2 L1230.2,124.2 L1232.9,122.2 L1235.0,121.6 L1236.6,122.0 L1238.0,123.0 L1238.8,125.0 L1239.0,128.4 L1238.8,132.7 L1238.6,136.7 L1239.4,138.8 L1241.5,138.1 L1244.6,135.5 L1247.9,132.6 L1250.6,130.7 L1252.7,130.1 L1254.4,130.5 L1255.7,131.6 L1256.5,133.6 L1256.6,137.0 L1256.2,141.4 L1256.0,145.4 L1256.7,147.4 L1258.8,146.9 L1262.0,144.3 L1265.3,141.5 L1268.1,139.7 L1270.3,139.2 L1271.9,139.6 L1273.2,140.7 L1273.9,142.8 L1273.9,146.1 L1273.4,150.5 L1273.1,154.5 L1273.7,156.6 L1275.9,156.1 L1279.1,153.6 L1282.5,150.9 L1285.4,149.1 L1287.5,148.7 L1289.1,149.2 L1290.4,150.3 L1291.1,152.4 L1291.0,155.8 L1290.3,160.1 L1289.9,164.1 L1290.5,166.2 L1292.6,165.7 L1295.9,163.4 L1299.4,160.8 L1302.3,159.1 L1304.5,158.7 L1306.1,159.3 L1307.3,160.4 L1307.9,162.5 L1307.8,165.9 L1307.0,170.2 L1306.4,174.2 L1307.0,176.3 L1309.1,175.9 L1312.5,173.7 L1316.0,171.1 L1319.0,169.5 L1321.2,169.2 L1322.8,169.8 L1323.9,171.0 L1324.5,173.1 L1324.2,176.5 L1323.3,180.8 L1322.6,184.7 L1323.1,186.9 L1325.3,186.5 L1328.7,184.4 L1332.4,181.9 L1335.4,180.4 L1337.5,180.2 L1339.1,180.8 L1340.2,182.1 L1340.8,184.2 L1340.4,187.5 L1339.4,191.8 L1338.6,195.7 L1339.0,197.9 L1341.2,197.6 L1344.7,195.6 L1348.4,193.2 L1351.4,191.8 L1353.6,191.6 L1355.1,192.3 L1356.2,193.6 L1356.7,195.7 L1356.2,199.0 L1355.1,203.3 L1354.2,207.2 L1354.6,209.3 L1356.8,209.1 L1360.3,207.2 L1364.0,205.0 L1367.1,203.6 L1369.3,203.5 L1370.8,204.2 L1371.9,205.5 L1372.3,207.7 L1371.8,211.0 L1370.5,215.2 L1369.5,219.1 L1369.8,221.2 L1372.0,221.1 L1375.6,219.3 L1379.4,217.1 L1382.5,215.9 L1384.7,215.8 L1386.2,216.6 L1387.2,217.9 L1387.6,220.1 L1386.9,223.4 L1385.5,227.5 L1384.4,231.4 L1384.7,233.6 L1386.9,233.5 L1390.5,231.8 L1394.4,229.8 L1397.5,228.6 L1399.7,228.6 L1401.2,229.4 L1402.2,230.8 L1402.5,232.9 L1401.7,236.2 L1400.2,240.3 L1399.0,244.1 L1399.2,246.3 L1401.4,246.3 L1405.0,244.7 L1409.0,242.8 L1412.2,241.7 L1414.4,241.8 L1415.8,242.6 L1416.8,244.0 L1417.0,246.2 L1416.1,249.5 L1414.5,253.5 L1413.2,257.3 L1413.3,259.5 L1415.5,259.5 L1419.2,258.0 L1423.2,256.2 L1426.4,255.3 L1428.6,255.4 L1430.1,256.3 L1431.0,257.7 L1431.1,259.9 L1430.2,263.1 L1428.5,267.1 L1427.0,270.9 L1427.1,273.1 L1429.3,273.2 L1433.0,271.7 L1437.1,270.1 L1440.3,269.2 L1442.5,269.4 L1443.9,270.3 L1444.8,271.8 L1444.9,273.9 L1443.8,277.2 L1442.0,281.1 L1440.4,284.8 L1440.4,287.0 L1442.6,287.2 L1446.4,285.9 L1450.5,284.3 L1453.8,283.5 L1456.0,283.8 L1457.3,284.7 L1458.2,286.2 L1458.2,288.4 L1457.1,291.6 L1455.1,295.5 L1453.4,299.1 L1453.4,301.3 L1455.6,301.6 L1459.4,300.4 L1463.5,298.9 L1466.8,298.3 L1469.0,298.6 L1470.4,299.6 L1471.1,301.1 L1471.1,303.2 L1469.9,306.4 L1467.8,310.2 L1466.1,313.8 L1465.9,316.0 L1468.1,316.3 L1472.0,315.2 L1476.2,313.9 L1479.5,313.3 L1481.6,313.7 L1483.0,314.7 L1483.7,316.2 L1483.6,318.4 L1482.3,321.5 L1480.1,325.3 L1478.2,328.9 L1478.1,331.1 L1480.2,331.4 L1484.1,330.4 L1488.3,329.3 L1491.7,328.8 L1493.8,329.2 L1495.1,330.3 L1495.8,331.8 L1495.6,334.0 L1494.3,337.1 L1492.0,340.8 L1490.0,344.3 L1489.7,346.5 L1491.9,346.9 L1495.8,346.0 L1500.1,344.9 L1503.4,344.5 L1505.5,345.0 L1506.8,346.1 L1507.5,347.7 L1507.2,349.9 L1505.8,352.9 L1503.4,356.6 L1501.3,360.0 L1501.0,362.2 L1503.1,362.6 L1507.1,361.9 L1511.4,360.9 L1514.7,360.6 L1516.8,361.2 L1518.1,362.3 L1518.7,363.9 L1518.4,366.1 L1516.8,369.1 L1514.3,372.7 L1512.2,376.0 L1511.8,378.2 L1513.9,378.7 L1517.9,378.1 L1522.2,377.3 L1525.5,377.1 L1527.6,377.7 L1528.8,378.8 L1529.4,380.4 L1529.0,382.6 L1527.4,385.5 L1524.8,389.1 L1522.5,392.4 L1522.1,394.5 L1524.2,395.1 L1528.2,394.6 L1532.5,393.9 L1535.9,393.8 L1538.0,394.4 L1539.1,395.7 L1539.7,397.3 L1539.2,399.4 L1537.5,402.3 L1534.8,405.8 L1532.5,409.0 L1532.0,411.1 L1534.1,411.8 L1538.1,411.4 L1542.4,410.8 L1545.8,410.8 L1547.8,411.5 L1549.0,412.8 L1549.4,414.4 L1549.0,416.5 L1547.2,419.4 L1544.4,422.7 L1541.9,425.9 L1541.3,428.0 L1543.4,428.7 L1547.4,428.4 L1551.8,428.0 L1555.2,428.1 L1557.2,428.9 L1558.3,430.1 L1558.7,431.8 L1558.2,433.9 L1556.3,436.7 L1553.4,440.0 L1550.9,443.1 L1550.2,445.2 L1552.3,446.0 L1556.3,445.8 L1560.7,445.4 L1564.0,445.6 L1566.1,446.5 L1567.1,447.8 L1567.5,449.4 L1566.9,451.5 L1564.9,454.3 L1562.0,457.5 L1559.3,460.5 L1558.6,462.6 L1560.7,463.4 L1564.7,463.3 L1569.1,463.1 L1572.4,463.4 L1574.4,464.3 L1575.4,465.6 L1575.8,467.3 L1575.1,469.4 L1573.1,472.1 L1570.0,475.2 L1567.3,478.1 L1566.5,480.2 L1568.6,481.1 L1572.6,481.1 L1577.0,481.1 L1580.3,481.4 L1582.3,482.4 L1583.2,483.8 L1583.5,485.4 L1582.8,487.5 L1580.7,490.1 L1577.5,493.1 L1574.7,496.0 L1573.9,498.1 L1575.9,499.0 L1579.9,499.2 L1584.3,499.2 L1587.6,499.7 L1589.6,500.7 L1590.5,502.1 L1590.8,503.8 L1590.0,505.8 L1587.8,508.4 L1584.6,511.3 L1581.7,514.1 L1580.8,516.1 L1582.8,517.1 L1586.8,517.4 L1591.2,517.6 L1594.5,518.1 L1596.4,519.2 L1597.3,520.6 L1597.5,522.3 L1596.6,524.3 L1594.4,526.8 L1591.1,529.6 L1588.1,532.4 L1587.2,534.4 L1589.1,535.4 L1593.1,535.8 L1597.5,536.1 L1600.8,536.7 L1602.7,537.9 L1603.5,539.3 L1603.6,541.0 L1602.8,543.0 L1600.4,545.4 L1597.0,548.2 L1594.0,550.8 L1593.0,552.8 L1594.9,553.9 L1598.9,554.4 L1603.3,554.8 L1606.5,555.5 L1608.4,556.7 L1609.2,558.2 L1609.3,559.9 L1608.3,561.9 L1606.0,564.2 L1602.5,566.9 L1599.4,569.4 L1598.3,571.4 L1600.2,572.5 L1604.2,573.1 L1608.5,573.7 L1611.8,574.5 L1613.6,575.7 L1614.4,577.2 L1614.4,578.9 L1613.4,580.9 L1610.9,583.2 L1607.4,585.7 L1604.2,588.2 L1603.1,590.1 L1604.9,591.3 L1608.9,592.0 L1613.2,592.7 L1616.5,593.6 L1618.2,594.9 L1619.0,596.4 L1618.9,598.1 L1617.9,600.0 L1615.4,602.2 L1611.7,604.7 L1608.5,607.0 L1607.3,608.9 L1609.1,610.2 L1613.1,611.0 L1617.4,611.8 L1620.6,612.8 L1622.3,614.2 L1623.0,615.7 L1623.0,617.4 L1621.8,619.3 L1619.3,621.4 L1615.6,623.8 L1612.2,626.0 L1611.1,627.9 L1612.8,629.2 L1616.7,630.2 L1621.0,631.1 L1624.2,632.2 L1625.9,633.6 L1626.5,635.1 L1626.4,636.8 L1625.2,638.6 L1622.6,640.7 L1618.8,643.0 L1615.4,645.1 L1614.2,646.9 L1615.9,648.3 L1619.8,649.4 L1624.1,650.4 L1627.2,651.6 L1628.9,653.0 L1629.5,654.6 L1629.3,656.3 L1628.1,658.1 L1625.4,660.1 L1621.6,662.2 L1618.1,664.3 L1616.8,666.1 L1618.5,667.5 L1622.3,668.7 L1626.6,669.8 L1629.7,671.1 L1631.3,672.6 L1631.8,674.2 L1631.6,675.9 L1630.4,677.6 L1627.6,679.6 L1623.7,681.6 L1620.2,683.6 L1618.9,685.3 L1620.5,686.8 L1624.3,688.0 L1628.5,689.3 L1631.6,690.7 L1633.2,692.2 L1633.7,693.8 L1633.4,695.5 L1632.1,697.2 L1629.3,699.1 L1625.4,701.0 L1621.8,702.9 L1620.4,704.6 L1622.0,706.1 L1625.8,707.5 L1629.9,708.9 L1632.9,710.3 L1634.5,711.9 L1634.9,713.5 L1634.6,715.2 L1633.3,716.9 L1630.4,718.6 L1626.4,720.4 L1622.8,722.2 L1621.4,723.9 L1622.9,725.4 L1626.7,726.9 L1630.8,728.4 L1633.7,730.0 L1635.2,731.6 L1635.6,733.2 L1635.3,734.9 L1633.9,736.5 L1631.0,738.2 L1626.9,739.9 L1623.3,741.5 L1621.8,743.2 L1623.3,744.8 L1627.0,746.4 L1631.0,748.0Z" fill="none" stroke="#0a0a0a" stroke-width="3.5" stroke-linejoin="round"/>
<circle cx="945.3" cy="748.0" r="661.5" fill="#F88D2B" stroke="#0a0a0a" stroke-width="3.8"/>
<circle cx="945.3" cy="748.0" r="614.5" fill="#fff" stroke="#0a0a0a" stroke-width="4.2"/>
<circle cx="945.3" cy="748.0" r="605.5" fill="none" stroke="#0a0a0a" stroke-width="4.6"/>
<path d="M1493.6,1009.7 L1257.5,1180.3 A533.2,533.2 0 0 1 1160.0,1236.0 L1156.6,1228.2 A524.6,524.6 0 0 0 1252.4,1173.3 L1480.0,1009.0 L1501.7,998.6 Z" fill="#fff" stroke="none"/>
<path d="M1493.6,1009.7 L1257.5,1180.3 A533.2,533.2 0 0 1 1160.0,1236.0 L1156.6,1228.2 A524.6,524.6 0 0 0 1252.4,1173.3 L1480.0,1009.0" fill="none" stroke="#0a0a0a" stroke-width="4.1" stroke-linejoin="miter"/>
<path d="M1510.9,973.0 L1507.9,971.8 L1505.0,975.3 A23.6,23.6 0 0 0 1480.0,1009.0 L1501.7,998.6 Z" fill="#fff" stroke="none"/>
<path d="M1507.9,971.8 L1505.0,975.3 A23.6,23.6 0 0 0 1480.0,1009.0" fill="none" stroke="#0a0a0a" stroke-width="4.1" stroke-linejoin="round"/>
<circle cx="1501.7" cy="998.6" r="14.6" fill="#fff" stroke="#0a0a0a" stroke-width="4.5"/>
<circle cx="1501.7" cy="998.6" r="7.7" fill="#ececf2" stroke="#0a0a0a" stroke-width="4.2"/>
<path d="M1235.1,1282.0 L943.8,1281.2 A533.2,533.2 0 0 1 832.2,1269.1 L834.0,1260.7 A524.6,524.6 0 0 0 943.8,1272.6 L1224.5,1273.4 L1248.1,1277.8 Z" fill="#fff" stroke="none"/>
<path d="M1235.1,1282.0 L943.8,1281.2 A533.2,533.2 0 0 1 832.2,1269.1 L834.0,1260.7 A524.6,524.6 0 0 0 943.8,1272.6 L1224.5,1273.4" fill="none" stroke="#0a0a0a" stroke-width="4.1" stroke-linejoin="miter"/>
<path d="M1270.6,1262.5 L1268.9,1259.8 L1264.6,1260.9 A23.6,23.6 0 0 0 1224.5,1273.4 L1248.1,1277.8 Z" fill="#fff" stroke="none"/>
<path d="M1268.9,1259.8 L1264.6,1260.9 A23.6,23.6 0 0 0 1224.5,1273.4" fill="none" stroke="#0a0a0a" stroke-width="4.1" stroke-linejoin="round"/>
<circle cx="1248.1" cy="1277.8" r="14.6" fill="#fff" stroke="#0a0a0a" stroke-width="4.5"/>
<circle cx="1248.1" cy="1277.8" r="7.7" fill="#ececf2" stroke="#0a0a0a" stroke-width="4.2"/>
<path d="M865.8,1350.4 L630.7,1178.5 A533.2,533.2 0 0 1 547.5,1103.0 L553.9,1097.3 A524.6,524.6 0 0 0 635.7,1171.5 L862.4,1337.2 L878.9,1354.6 Z" fill="#fff" stroke="none"/>
<path d="M865.8,1350.4 L630.7,1178.5 A533.2,533.2 0 0 1 547.5,1103.0 L553.9,1097.3 A524.6,524.6 0 0 0 635.7,1171.5 L862.4,1337.2" fill="none" stroke="#0a0a0a" stroke-width="4.1" stroke-linejoin="miter"/>
<path d="M906.1,1355.4 L906.3,1352.2 L902.1,1350.6 A23.6,23.6 0 0 0 862.4,1337.2 L878.9,1354.6 Z" fill="#fff" stroke="none"/>
<path d="M906.3,1352.2 L902.1,1350.6 A23.6,23.6 0 0 0 862.4,1337.2" fill="none" stroke="#0a0a0a" stroke-width="4.1" stroke-linejoin="round"/>
<circle cx="878.9" cy="1354.6" r="14.6" fill="#fff" stroke="#0a0a0a" stroke-width="4.5"/>
<circle cx="878.9" cy="1354.6" r="7.7" fill="#ececf2" stroke="#0a0a0a" stroke-width="4.2"/>
<path d="M526.9,1188.6 L437.7,911.3 A533.2,533.2 0 0 1 414.8,801.4 L423.3,800.6 A524.6,524.6 0 0 0 445.9,908.7 L531.9,1175.9 L535.0,1199.7 Z" fill="#fff" stroke="none"/>
<path d="M526.9,1188.6 L437.7,911.3 A533.2,533.2 0 0 1 414.8,801.4 L423.3,800.6 A524.6,524.6 0 0 0 445.9,908.7 L531.9,1175.9" fill="none" stroke="#0a0a0a" stroke-width="4.1" stroke-linejoin="miter"/>
<path d="M556.5,1216.4 L558.6,1213.9 L556.2,1210.1 A23.6,23.6 0 0 0 531.9,1175.9 L535.0,1199.7 Z" fill="#fff" stroke="none"/>
<path d="M558.6,1213.9 L556.2,1210.1 A23.6,23.6 0 0 0 531.9,1175.9" fill="none" stroke="#0a0a0a" stroke-width="4.1" stroke-linejoin="round"/>
<circle cx="535.0" cy="1199.7" r="14.6" fill="#fff" stroke="#0a0a0a" stroke-width="4.5"/>
<circle cx="535.0" cy="1199.7" r="7.7" fill="#ececf2" stroke="#0a0a0a" stroke-width="4.2"/>
<path d="M347.9,858.6 L438.7,581.8 A533.2,533.2 0 0 1 484.7,479.4 L492.1,483.7 A524.6,524.6 0 0 0 446.8,584.5 L359.3,851.2 L347.9,872.3 Z" fill="#fff" stroke="none"/>
<path d="M347.9,858.6 L438.7,581.8 A533.2,533.2 0 0 1 484.7,479.4 L492.1,483.7 A524.6,524.6 0 0 0 446.8,584.5 L359.3,851.2" fill="none" stroke="#0a0a0a" stroke-width="4.1" stroke-linejoin="miter"/>
<path d="M355.5,898.4 L358.6,897.6 L358.9,893.1 A23.6,23.6 0 0 0 359.3,851.2 L347.9,872.3 Z" fill="#fff" stroke="none"/>
<path d="M358.6,897.6 L358.9,893.1 A23.6,23.6 0 0 0 359.3,851.2" fill="none" stroke="#0a0a0a" stroke-width="4.1" stroke-linejoin="round"/>
<circle cx="347.9" cy="872.3" r="14.6" fill="#fff" stroke="#0a0a0a" stroke-width="4.5"/>
<circle cx="347.9" cy="872.3" r="7.7" fill="#ececf2" stroke="#0a0a0a" stroke-width="4.2"/>
<path d="M397.0,486.3 L633.1,315.7 A533.2,533.2 0 0 1 730.6,260.0 L734.0,267.8 A524.6,524.6 0 0 0 638.2,322.7 L410.6,487.0 L388.9,497.4 Z" fill="#fff" stroke="none"/>
<path d="M397.0,486.3 L633.1,315.7 A533.2,533.2 0 0 1 730.6,260.0 L734.0,267.8 A524.6,524.6 0 0 0 638.2,322.7 L410.6,487.0" fill="none" stroke="#0a0a0a" stroke-width="4.1" stroke-linejoin="miter"/>
<path d="M379.7,523.0 L382.7,524.2 L385.6,520.7 A23.6,23.6 0 0 0 410.6,487.0 L388.9,497.4 Z" fill="#fff" stroke="none"/>
<path d="M382.7,524.2 L385.6,520.7 A23.6,23.6 0 0 0 410.6,487.0" fill="none" stroke="#0a0a0a" stroke-width="4.1" stroke-linejoin="round"/>
<circle cx="388.9" cy="497.4" r="14.6" fill="#fff" stroke="#0a0a0a" stroke-width="4.5"/>
<circle cx="388.9" cy="497.4" r="7.7" fill="#ececf2" stroke="#0a0a0a" stroke-width="4.2"/>
<path d="M655.5,214.0 L946.8,214.8 A533.2,533.2 0 0 1 1058.4,226.9 L1056.6,235.3 A524.6,524.6 0 0 0 946.8,223.4 L666.1,222.6 L642.5,218.2 Z" fill="#fff" stroke="none"/>
<path d="M655.5,214.0 L946.8,214.8 A533.2,533.2 0 0 1 1058.4,226.9 L1056.6,235.3 A524.6,524.6 0 0 0 946.8,223.4 L666.1,222.6" fill="none" stroke="#0a0a0a" stroke-width="4.1" stroke-linejoin="miter"/>
<path d="M620.0,233.5 L621.7,236.2 L626.0,235.1 A23.6,23.6 0 0 0 666.1,222.6 L642.5,218.2 Z" fill="#fff" stroke="none"/>
<path d="M621.7,236.2 L626.0,235.1 A23.6,23.6 0 0 0 666.1,222.6" fill="none" stroke="#0a0a0a" stroke-width="4.1" stroke-linejoin="round"/>
<circle cx="642.5" cy="218.2" r="14.6" fill="#fff" stroke="#0a0a0a" stroke-width="4.5"/>
<circle cx="642.5" cy="218.2" r="7.7" fill="#ececf2" stroke="#0a0a0a" stroke-width="4.2"/>
<path d="M1024.8,145.6 L1259.9,317.5 A533.2,533.2 0 0 1 1343.1,393.0 L1336.7,398.7 A524.6,524.6 0 0 0 1254.9,324.5 L1028.2,158.8 L1011.7,141.4 Z" fill="#fff" stroke="none"/>
<path d="M1024.8,145.6 L1259.9,317.5 A533.2,533.2 0 0 1 1343.1,393.0 L1336.7,398.7 A524.6,524.6 0 0 0 1254.9,324.5 L1028.2,158.8" fill="none" stroke="#0a0a0a" stroke-width="4.1" stroke-linejoin="miter"/>
<path d="M984.5,140.6 L984.3,143.8 L988.5,145.4 A23.6,23.6 0 0 0 1028.2,158.8 L1011.7,141.4 Z" fill="#fff" stroke="none"/>
<path d="M984.3,143.8 L988.5,145.4 A23.6,23.6 0 0 0 1028.2,158.8" fill="none" stroke="#0a0a0a" stroke-width="4.1" stroke-linejoin="round"/>
<circle cx="1011.7" cy="141.4" r="14.6" fill="#fff" stroke="#0a0a0a" stroke-width="4.5"/>
<circle cx="1011.7" cy="141.4" r="7.7" fill="#ececf2" stroke="#0a0a0a" stroke-width="4.2"/>
<path d="M1363.7,307.4 L1452.9,584.7 A533.2,533.2 0 0 1 1475.8,694.6 L1467.3,695.4 A524.6,524.6 0 0 0 1444.7,587.3 L1358.7,320.1 L1355.6,296.3 Z" fill="#fff" stroke="none"/>
<path d="M1363.7,307.4 L1452.9,584.7 A533.2,533.2 0 0 1 1475.8,694.6 L1467.3,695.4 A524.6,524.6 0 0 0 1444.7,587.3 L1358.7,320.1" fill="none" stroke="#0a0a0a" stroke-width="4.1" stroke-linejoin="miter"/>
<path d="M1334.1,279.6 L1332.0,282.1 L1334.4,285.9 A23.6,23.6 0 0 0 1358.7,320.1 L1355.6,296.3 Z" fill="#fff" stroke="none"/>
<path d="M1332.0,282.1 L1334.4,285.9 A23.6,23.6 0 0 0 1358.7,320.1" fill="none" stroke="#0a0a0a" stroke-width="4.1" stroke-linejoin="round"/>
<circle cx="1355.6" cy="296.3" r="14.6" fill="#fff" stroke="#0a0a0a" stroke-width="4.5"/>
<circle cx="1355.6" cy="296.3" r="7.7" fill="#ececf2" stroke="#0a0a0a" stroke-width="4.2"/>
<path d="M1542.7,637.4 L1451.9,914.2 A533.2,533.2 0 0 1 1405.9,1016.6 L1398.5,1012.3 A524.6,524.6 0 0 0 1443.8,911.5 L1531.3,644.8 L1542.7,623.7 Z" fill="#fff" stroke="none"/>
<path d="M1542.7,637.4 L1451.9,914.2 A533.2,533.2 0 0 1 1405.9,1016.6 L1398.5,1012.3 A524.6,524.6 0 0 0 1443.8,911.5 L1531.3,644.8" fill="none" stroke="#0a0a0a" stroke-width="4.1" stroke-linejoin="miter"/>
<path d="M1535.1,597.6 L1532.0,598.4 L1531.7,602.9 A23.6,23.6 0 0 0 1531.3,644.8 L1542.7,623.7 Z" fill="#fff" stroke="none"/>
<path d="M1532.0,598.4 L1531.7,602.9 A23.6,23.6 0 0 0 1531.3,644.8" fill="none" stroke="#0a0a0a" stroke-width="4.1" stroke-linejoin="round"/>
<circle cx="1542.7" cy="623.7" r="14.6" fill="#fff" stroke="#0a0a0a" stroke-width="4.5"/>
<circle cx="1542.7" cy="623.7" r="7.7" fill="#ececf2" stroke="#0a0a0a" stroke-width="4.2"/>
<circle cx="945.3" cy="748.0" r="524.6" fill="none" stroke="#0a0a0a" stroke-width="4.4"/>
<circle cx="945.3" cy="748.0" r="517.6" fill="none" stroke="#0a0a0a" stroke-width="4.1"/>
<circle cx="945.3" cy="748.0" r="510.7" fill="#FCF953" stroke="#140a0c" stroke-width="3.2"/>
<circle cx="945.3" cy="748.0" r="458.8" fill="#fff" stroke="#1a0a10" stroke-width="2.5"/>
<path d="M1404.1,748.8 L1456.0,748.9 M1403.4,772.8 L1455.3,775.6 M1401.5,796.8 L1453.1,802.3 M1398.3,820.6 L1449.6,828.8 M1393.9,844.2 L1444.7,855.1 M1388.3,867.5 L1438.4,881.0 M1381.4,890.5 L1430.7,906.7 M1373.3,913.2 L1421.8,931.9 M1364.1,935.3 L1411.5,956.5 M1353.7,957.0 L1399.9,980.6 M1342.2,978.1 L1387.1,1004.1 M1329.6,998.6 L1373.1,1026.9 M1316.0,1018.3 L1357.9,1048.9 M1301.4,1037.4 L1341.6,1070.1 M1285.7,1055.6 L1324.2,1090.4 M1269.2,1073.0 L1305.8,1109.7 M1251.7,1089.5 L1286.4,1128.1 M1233.4,1105.1 L1266.0,1145.4 M1214.3,1119.6 L1244.8,1161.7 M1194.5,1133.2 L1222.7,1176.8 M1174.0,1145.7 L1199.9,1190.7 M1152.9,1157.2 L1176.4,1203.4 M1131.2,1167.5 L1152.2,1214.9 M1109.0,1176.6 L1127.5,1225.1 M1086.3,1184.6 L1102.3,1234.0 M1063.3,1191.4 L1076.6,1241.5 M1039.9,1196.9 L1050.6,1247.7 M1016.3,1201.3 L1024.3,1252.6 M992.5,1204.4 L997.8,1256.0 M968.5,1206.2 L971.1,1258.0 M944.5,1206.8 L944.4,1258.7 M920.5,1206.1 L917.7,1258.0 M896.5,1204.2 L891.0,1255.8 M872.7,1201.0 L864.5,1252.3 M849.1,1196.6 L838.2,1247.4 M825.8,1191.0 L812.3,1241.1 M802.8,1184.1 L786.6,1233.4 M780.1,1176.0 L761.4,1224.5 M758.0,1166.8 L736.8,1214.2 M736.3,1156.4 L712.7,1202.6 M715.2,1144.9 L689.2,1189.8 M694.7,1132.3 L666.4,1175.8 M675.0,1118.7 L644.4,1160.6 M655.9,1104.1 L623.2,1144.3 M637.7,1088.4 L602.9,1126.9 M620.3,1071.9 L583.6,1108.5 M603.8,1054.4 L565.2,1089.1 M588.2,1036.1 L547.9,1068.7 M573.7,1017.0 L531.6,1047.5 M560.1,997.2 L516.5,1025.4 M547.6,976.7 L502.6,1002.6 M536.1,955.6 L489.9,979.1 M525.8,933.9 L478.4,954.9 M516.7,911.7 L468.2,930.2 M508.7,889.0 L459.3,905.0 M501.9,866.0 L451.8,879.3 M496.4,842.6 L445.6,853.3 M492.0,819.0 L440.7,827.0 M488.9,795.2 L437.3,800.5 M487.1,771.2 L435.3,773.8 M486.5,747.2 L434.6,747.1 M487.2,723.2 L435.3,720.4 M489.1,699.2 L437.5,693.7 M492.3,675.4 L441.0,667.2 M496.7,651.8 L445.9,640.9 M502.3,628.5 L452.2,615.0 M509.2,605.5 L459.9,589.3 M517.3,582.8 L468.8,564.1 M526.5,560.7 L479.1,539.5 M536.9,539.0 L490.7,515.4 M548.4,517.9 L503.5,491.9 M561.0,497.4 L517.5,469.1 M574.6,477.7 L532.7,447.1 M589.2,458.6 L549.0,425.9 M604.9,440.4 L566.4,405.6 M621.4,423.0 L584.8,386.3 M638.9,406.5 L604.2,367.9 M657.2,390.9 L624.6,350.6 M676.3,376.4 L645.8,334.3 M696.1,362.8 L667.9,319.2 M716.6,350.3 L690.7,305.3 M737.7,338.8 L714.2,292.6 M759.4,328.5 L738.4,281.1 M781.6,319.4 L763.1,270.9 M804.3,311.4 L788.3,262.0 M827.3,304.6 L814.0,254.5 M850.7,299.1 L840.0,248.3 M874.3,294.7 L866.3,243.4 M898.1,291.6 L892.8,240.0 M922.1,289.8 L919.5,238.0 M946.1,289.2 L946.2,237.3 M970.1,289.9 L972.9,238.0 M994.1,291.8 L999.6,240.2 M1017.9,295.0 L1026.1,243.7 M1041.5,299.4 L1052.4,248.6 M1064.8,305.0 L1078.3,254.9 M1087.8,311.9 L1104.0,262.6 M1110.5,320.0 L1129.2,271.5 M1132.6,329.2 L1153.8,281.8 M1154.3,339.6 L1177.9,293.4 M1175.4,351.1 L1201.4,306.2 M1195.9,363.7 L1224.2,320.2 M1215.6,377.3 L1246.2,335.4 M1234.7,391.9 L1267.4,351.7 M1252.9,407.6 L1287.7,369.1 M1270.3,424.1 L1307.0,387.5 M1286.8,441.6 L1325.4,406.9 M1302.4,459.9 L1342.7,427.3 M1316.9,479.0 L1359.0,448.5 M1330.5,498.8 L1374.1,470.6 M1343.0,519.3 L1388.0,493.4 M1354.5,540.4 L1400.7,516.9 M1364.8,562.1 L1412.2,541.1 M1373.9,584.3 L1422.4,565.8 M1381.9,607.0 L1431.3,591.0 M1388.7,630.0 L1438.8,616.7 M1394.2,653.4 L1445.0,642.7 M1398.6,677.0 L1449.9,669.0 M1401.7,700.8 L1453.3,695.5 M1403.5,724.8 L1455.3,722.2 " stroke="#5e3c0a" stroke-width="1.35" fill="none"/>
<defs><clipPath id="bc"><path d="M1393.5,840.1 L1378.4,847.0 L1366.6,863.0 L1357.8,879.5 L1343.0,897.0 L1328.0,913.0 L1307.7,919.0 L1290.0,925.0 L1276.8,928.0 L1271.0,940.0 L1257.6,954.6 L1240.0,965.0 L1222.0,972.0 L1213.5,975.0 L1198.7,988.5 L1178.0,996.0 L1166.0,1006.0 L1157.5,1018.0 L1137.0,1024.0 L1122.0,1035.6 L1098.6,1047.0 L1084.0,1052.0 L1076.5,1066.5 L1042.6,1075.0 L1025.0,1090.0 L1004.0,1096.0 L989.6,1106.0 L972.0,1116.6 L951.0,1125.5 L933.6,1138.7 L919.0,1150.5 L911.5,1168.0 L895.0,1180.0 L889.5,1194.7 L888.2,1202.0 A457.6,457.6 0 0 0 1393.5,840.1 Z"/></clipPath><filter id="mott" x="0" y="0" width="100%" height="100%" color-interpolation-filters="sRGB"><feTurbulence type="fractalNoise" baseFrequency="0.022" numOctaves="3" seed="7" result="n"/><feColorMatrix in="n" type="matrix" values="0 0 0 0 0.60  0 0 0 0 0.63  0 0 0 0 0.50  1.3 0 0 0 -0.5"/></filter><filter id="mott2" x="0" y="0" width="100%" height="100%" color-interpolation-filters="sRGB"><feTurbulence type="fractalNoise" baseFrequency="0.03" numOctaves="2" seed="21" result="n"/><feColorMatrix in="n" type="matrix" values="0 0 0 0 0.90  0 0 0 0 0.91  0 0 0 0 0.78  0 1.3 0 0 -0.55"/></filter></defs>
<path d="M1393.5,840.1 L1378.4,847.0 L1366.6,863.0 L1357.8,879.5 L1343.0,897.0 L1328.0,913.0 L1307.7,919.0 L1290.0,925.0 L1276.8,928.0 L1271.0,940.0 L1257.6,954.6 L1240.0,965.0 L1222.0,972.0 L1213.5,975.0 L1198.7,988.5 L1178.0,996.0 L1166.0,1006.0 L1157.5,1018.0 L1137.0,1024.0 L1122.0,1035.6 L1098.6,1047.0 L1084.0,1052.0 L1076.5,1066.5 L1042.6,1075.0 L1025.0,1090.0 L1004.0,1096.0 L989.6,1106.0 L972.0,1116.6 L951.0,1125.5 L933.6,1138.7 L919.0,1150.5 L911.5,1168.0 L895.0,1180.0 L889.5,1194.7 L888.2,1202.0 A457.6,457.6 0 0 0 1393.5,840.1 Z" fill="#CBD0AD"/>
<g clip-path="url(#bc)"><rect x="880" y="830" width="520" height="380" filter="url(#mott)"/><rect x="880" y="830" width="520" height="380" filter="url(#mott2)"/></g>
<path d="M1393.5,840.1 L1378.4,847.0 L1366.6,863.0 L1357.8,879.5 L1343.0,897.0 L1328.0,913.0 L1307.7,919.0 L1290.0,925.0 L1276.8,928.0 L1271.0,940.0 L1257.6,954.6 L1240.0,965.0 L1222.0,972.0 L1213.5,975.0 L1198.7,988.5 L1178.0,996.0 L1166.0,1006.0 L1157.5,1018.0 L1137.0,1024.0 L1122.0,1035.6 L1098.6,1047.0 L1084.0,1052.0 L1076.5,1066.5 L1042.6,1075.0 L1025.0,1090.0 L1004.0,1096.0 L989.6,1106.0 L972.0,1116.6 L951.0,1125.5 L933.6,1138.7 L919.0,1150.5 L911.5,1168.0 L895.0,1180.0 L889.5,1194.7 L888.2,1202.0" fill="none" stroke="#D6D9B2" stroke-width="2.2" stroke-linejoin="round"/>
<path d="M1383.9,857.3 A452,452 0 0 1 1223.6,1104.2" fill="none" stroke="#AEB3A0" stroke-width="1.6" opacity="0.5"/>
<path d="M1370.1,1389.4 L1368.0,1390.6 L1365.4,1391.7 L1362.9,1392.6 L1360.9,1393.5 L1359.6,1394.4 L1359.0,1395.4 L1358.9,1396.3 L1359.2,1397.4 L1360.2,1398.6 L1362.0,1400.1 L1364.1,1401.7 L1366.3,1403.5 L1367.9,1405.2 L1368.6,1406.7 L1368.2,1407.9 L1366.7,1408.6 L1364.3,1409.0 L1361.5,1409.2 L1358.8,1409.2 L1356.6,1409.4 L1355.1,1409.8 L1354.3,1410.5 L1353.8,1411.3 L1353.7,1412.5 L1354.3,1414.0 L1355.4,1415.9 L1356.9,1418.2 L1358.3,1420.6 L1359.2,1422.7 L1359.4,1424.4 L1358.6,1425.3 L1356.9,1425.6 L1354.5,1425.1 L1351.9,1424.3 L1349.3,1423.4 L1347.2,1422.8 L1345.7,1422.7 L1344.6,1423.0 L1343.9,1423.7 L1343.4,1424.7 L1343.4,1426.3 L1343.8,1428.5 L1344.4,1431.2 L1345.0,1433.9 L1345.1,1436.3 L1344.7,1437.9 L1343.6,1438.5 L1341.9,1438.1 L1339.9,1436.9 L1337.7,1435.2 L1335.6,1433.5 L1333.8,1432.2 L1332.4,1431.6 L1331.3,1431.6 L1330.3,1431.9 L1329.6,1432.7 L1329.0,1434.2 L1328.6,1436.5 L1328.3,1439.1 L1327.9,1441.9 L1327.2,1444.1 L1326.2,1445.5 L1325.0,1445.7 L1323.6,1444.8 L1322.0,1443.0 L1320.5,1440.6 L1319.2,1438.3 L1317.9,1436.5 L1316.8,1435.4 L1315.8,1435.0 L1314.8,1435.0 L1313.8,1435.5 L1312.8,1436.7 L1311.6,1438.7 L1310.4,1441.1 L1309.1,1443.5 L1307.7,1445.4 L1306.3,1446.4 L1305.1,1446.2 L1304.0,1444.8 L1303.2,1442.5 L1302.6,1439.8 L1302.1,1437.2 L1301.6,1435.0 L1300.9,1433.6 L1300.1,1432.9 L1299.1,1432.6 L1298.0,1432.7 L1296.6,1433.5 L1294.9,1435.0 L1292.9,1436.8 L1290.8,1438.6 L1288.9,1439.9 L1287.3,1440.4 L1286.2,1439.8 L1285.7,1438.1 L1285.7,1435.7 L1286.0,1433.0 L1286.5,1430.3 L1286.7,1428.1 L1286.6,1426.5 L1286.0,1425.6 L1285.2,1425.0 L1284.2,1424.7 L1282.6,1425.0 L1280.5,1425.8 L1278.0,1426.8 L1275.4,1427.8 L1273.1,1428.4 L1271.4,1428.2 L1270.6,1427.3 L1270.7,1425.6 L1271.5,1423.3 L1272.8,1420.9 L1274.1,1418.5 L1275.1,1416.5 L1275.5,1415.0 L1275.3,1413.9 L1274.8,1413.1 L1273.9,1412.5 L1272.3,1412.2 L1270.0,1412.2 L1267.3,1412.3 L1264.6,1412.4 L1262.2,1412.1 L1260.7,1411.4 L1260.3,1410.2 L1260.9,1408.6 L1262.5,1406.8 L1264.5,1404.9 L1266.6,1403.2 L1268.2,1401.6 L1269.1,1400.3 L1269.3,1399.3 L1269.0,1398.3 L1268.4,1397.4 L1267.0,1396.6 L1264.9,1395.8 L1262.3,1395.0 L1259.7,1394.1 L1257.6,1393.1 L1256.4,1391.9 L1256.4,1390.7 L1257.5,1389.4 L1259.6,1388.2 L1262.2,1387.1 L1264.7,1386.2 L1266.7,1385.3 L1268.0,1384.4 L1268.6,1383.4 L1268.7,1382.5 L1268.4,1381.4 L1267.4,1380.2 L1265.6,1378.7 L1263.5,1377.1 L1261.3,1375.3 L1259.7,1373.6 L1259.0,1372.1 L1259.4,1370.9 L1260.9,1370.2 L1263.3,1369.8 L1266.1,1369.6 L1268.8,1369.6 L1271.0,1369.4 L1272.5,1369.0 L1273.3,1368.3 L1273.8,1367.5 L1273.9,1366.3 L1273.3,1364.8 L1272.2,1362.9 L1270.7,1360.6 L1269.3,1358.2 L1268.4,1356.1 L1268.2,1354.4 L1269.0,1353.5 L1270.7,1353.2 L1273.1,1353.7 L1275.7,1354.5 L1278.3,1355.4 L1280.4,1356.0 L1281.9,1356.1 L1283.0,1355.8 L1283.7,1355.1 L1284.2,1354.1 L1284.2,1352.5 L1283.8,1350.3 L1283.2,1347.6 L1282.6,1344.9 L1282.5,1342.5 L1282.9,1340.9 L1284.0,1340.3 L1285.7,1340.7 L1287.7,1341.9 L1289.9,1343.6 L1292.0,1345.3 L1293.8,1346.6 L1295.2,1347.2 L1296.3,1347.2 L1297.3,1346.9 L1298.0,1346.1 L1298.6,1344.6 L1299.0,1342.3 L1299.3,1339.7 L1299.7,1336.9 L1300.4,1334.7 L1301.4,1333.3 L1302.6,1333.1 L1304.0,1334.0 L1305.6,1335.8 L1307.1,1338.2 L1308.4,1340.5 L1309.7,1342.3 L1310.8,1343.4 L1311.8,1343.8 L1312.8,1343.8 L1313.8,1343.3 L1314.8,1342.1 L1316.0,1340.1 L1317.2,1337.7 L1318.5,1335.3 L1319.9,1333.4 L1321.3,1332.4 L1322.5,1332.6 L1323.6,1334.0 L1324.4,1336.3 L1325.0,1339.0 L1325.5,1341.6 L1326.0,1343.8 L1326.7,1345.2 L1327.5,1345.9 L1328.5,1346.2 L1329.6,1346.1 L1331.0,1345.3 L1332.7,1343.8 L1334.7,1342.0 L1336.8,1340.2 L1338.7,1338.9 L1340.3,1338.4 L1341.4,1339.0 L1341.9,1340.7 L1341.9,1343.1 L1341.6,1345.8 L1341.1,1348.5 L1340.9,1350.7 L1341.0,1352.3 L1341.6,1353.2 L1342.4,1353.8 L1343.4,1354.1 L1345.0,1353.8 L1347.1,1353.0 L1349.6,1352.0 L1352.2,1351.0 L1354.5,1350.4 L1356.2,1350.6 L1357.0,1351.5 L1356.9,1353.2 L1356.1,1355.5 L1354.8,1357.9 L1353.5,1360.3 L1352.5,1362.3 L1352.1,1363.8 L1352.3,1364.9 L1352.8,1365.7 L1353.7,1366.3 L1355.3,1366.6 L1357.6,1366.6 L1360.3,1366.5 L1363.0,1366.4 L1365.4,1366.7 L1366.9,1367.4 L1367.3,1368.6 L1366.7,1370.2 L1365.1,1372.0 L1363.1,1373.9 L1361.0,1375.6 L1359.4,1377.2 L1358.5,1378.5 L1358.3,1379.5 L1358.6,1380.5 L1359.2,1381.4 L1360.6,1382.2 L1362.7,1383.0 L1365.3,1383.8 L1367.9,1384.7 L1370.0,1385.7 L1371.2,1386.9 L1371.2,1388.1Z" fill="#F88D2B" stroke="#0a0a0a" stroke-width="3.4" stroke-linejoin="round"/>
<circle cx="1315" cy="1389" r="28.2" fill="none" stroke="#0a0a14" stroke-width="2.8"/>
<path d="M1668.7,559.7 A749,749 0 0 0 1522.9,269.6" fill="none" stroke="#000" stroke-width="4.4" stroke-linecap="round"/>
<path d="M1482.3,231.6 L1545,265 L1521,270.5 L1511,293.7 Z" fill="#000"/>
<path d="M496.0,134.0 L617.2,334.8" stroke="#86102C" stroke-width="2.8" fill="none"/>
<path d="M621.5,342.0 L611.4,334.1 L616.9,334.3 L619.2,329.4 Z" fill="#C8281A"/>
<path d="M771.0,403.0 L742.6,320.9" stroke="#9A1222" stroke-width="2.9" fill="none"/>
<path d="M738.0,307.7 L751.2,324.3 L742.9,321.9 L737.9,328.9 Z" fill="#C8401A"/>
<path d="M1167.0,741.0 L1233.0,1022.1" stroke="#A01418" stroke-width="2.9" fill="none"/>
<path d="M1236.0,1035.0 L1224.8,1018.1 L1232.7,1021.1 L1238.5,1014.9 Z" fill="#C04A1C"/>
<path d="M316.0,1226.0 L470.7,1065.6" stroke="#8A1426" stroke-width="2.9" fill="none"/>
<path d="M478.0,1058.0 L471.9,1073.0 L470.2,1066.1 L463.3,1064.6 Z" fill="#B0201C"/>
<path d="M1537.7,1400.8 L1368.3,1387.0" stroke="#C4121C" stroke-width="3.1" fill="none"/>
<path d="M1356.4,1386.0 L1373.9,1380.4 L1369.1,1387.0 L1372.8,1394.4 Z" fill="#C4121C"/>
<path d="M697,434.5 L706,434.5" stroke="#9a9a9a" stroke-width="1.2"/>
<text x="72" y="127.5" font-size="50.2">Enveloppe du four</text>
<text x="661" y="480.8" font-size="50.2">Revêtement réfractaire</text>
<text x="1651.6" y="419.5" font-size="50.2">Rotation</text>
<text x="833" y="716.5" font-size="50.2">Matière d'alimentation</text>
<text x="52" y="1289" font-size="50.2">Plaque tangente</text>
<text x="1462" y="1358.5" font-size="50.2">Pignon</text>
</svg></body></html>
